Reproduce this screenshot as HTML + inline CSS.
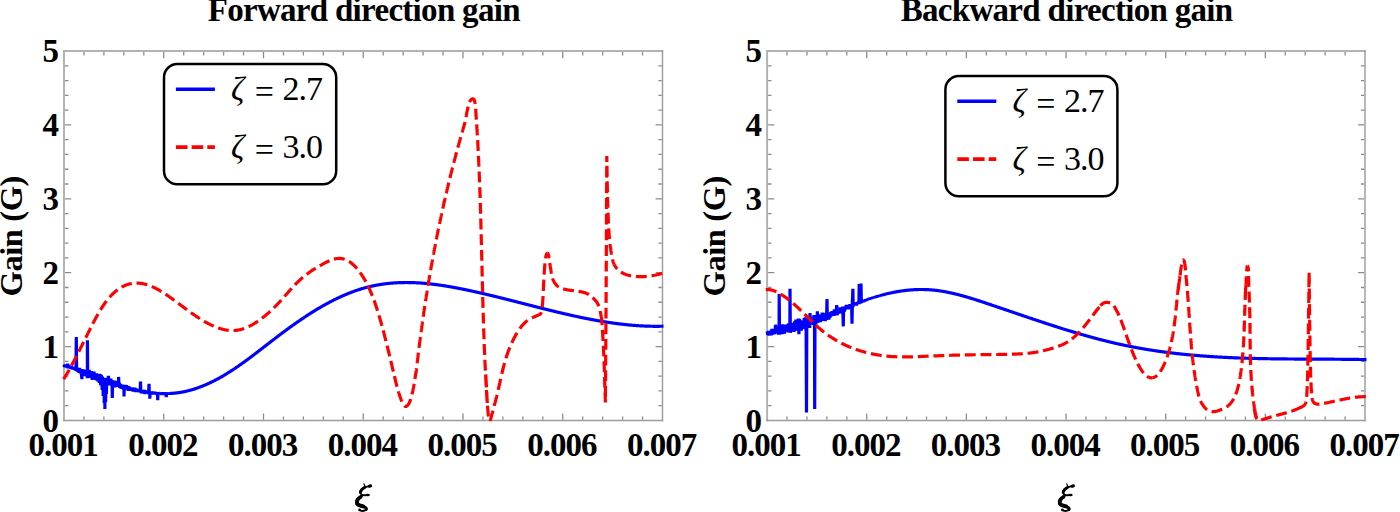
<!DOCTYPE html>
<html><head><meta charset="utf-8"><style>
html,body{margin:0;padding:0;background:#fff;width:1400px;height:512px;overflow:hidden}
svg{display:block}
text{font-family:"Liberation Serif",serif;fill:#000}
.tl{font-weight:bold;font-size:33px;letter-spacing:-1px}
.ti{font-weight:bold;font-size:33px;letter-spacing:-0.7px}
.gl{font-weight:bold;font-size:32.5px;letter-spacing:-0.4px}
.xi{font-weight:bold;font-style:italic;font-size:32px}
.lg{font-size:34px}
.ln{letter-spacing:-1px}
.lz{font-size:33px;font-style:italic}
</style></head><body>
<svg width="1400" height="512" viewBox="0 0 1400 512">
<path d="M83.95 419.80v-3.40M83.95 52.00v3.40M103.90 419.80v-3.40M103.90 52.00v3.40M123.85 419.80v-3.40M123.85 52.00v3.40M143.80 419.80v-3.40M143.80 52.00v3.40M163.75 419.80v-6.20M163.75 52.00v6.20M183.70 419.80v-3.40M183.70 52.00v3.40M203.65 419.80v-3.40M203.65 52.00v3.40M223.60 419.80v-3.40M223.60 52.00v3.40M243.55 419.80v-3.40M243.55 52.00v3.40M263.50 419.80v-6.20M263.50 52.00v6.20M283.45 419.80v-3.40M283.45 52.00v3.40M303.40 419.80v-3.40M303.40 52.00v3.40M323.35 419.80v-3.40M323.35 52.00v3.40M343.30 419.80v-3.40M343.30 52.00v3.40M363.25 419.80v-6.20M363.25 52.00v6.20M383.20 419.80v-3.40M383.20 52.00v3.40M403.15 419.80v-3.40M403.15 52.00v3.40M423.10 419.80v-3.40M423.10 52.00v3.40M443.05 419.80v-3.40M443.05 52.00v3.40M463.00 419.80v-6.20M463.00 52.00v6.20M482.95 419.80v-3.40M482.95 52.00v3.40M502.90 419.80v-3.40M502.90 52.00v3.40M522.85 419.80v-3.40M522.85 52.00v3.40M542.80 419.80v-3.40M542.80 52.00v3.40M562.75 419.80v-6.20M562.75 52.00v6.20M582.70 419.80v-3.40M582.70 52.00v3.40M602.65 419.80v-3.40M602.65 52.00v3.40M622.60 419.80v-3.40M622.60 52.00v3.40M642.55 419.80v-3.40M642.55 52.00v3.40M65.00 405.72h3.40M661.80 405.72h-3.40M65.00 390.94h3.40M661.80 390.94h-3.40M65.00 376.16h3.40M661.80 376.16h-3.40M65.00 361.38h3.40M661.80 361.38h-3.40M65.00 346.60h6.20M661.80 346.60h-6.20M65.00 331.82h3.40M661.80 331.82h-3.40M65.00 317.04h3.40M661.80 317.04h-3.40M65.00 302.26h3.40M661.80 302.26h-3.40M65.00 287.48h3.40M661.80 287.48h-3.40M65.00 272.70h6.20M661.80 272.70h-6.20M65.00 257.92h3.40M661.80 257.92h-3.40M65.00 243.14h3.40M661.80 243.14h-3.40M65.00 228.36h3.40M661.80 228.36h-3.40M65.00 213.58h3.40M661.80 213.58h-3.40M65.00 198.80h6.20M661.80 198.80h-6.20M65.00 184.02h3.40M661.80 184.02h-3.40M65.00 169.24h3.40M661.80 169.24h-3.40M65.00 154.46h3.40M661.80 154.46h-3.40M65.00 139.68h3.40M661.80 139.68h-3.40M65.00 124.90h6.20M661.80 124.90h-6.20M65.00 110.12h3.40M661.80 110.12h-3.40M65.00 95.34h3.40M661.80 95.34h-3.40M65.00 80.56h3.40M661.80 80.56h-3.40M65.00 65.78h3.40M661.80 65.78h-3.40" stroke="#8c8c8c" stroke-width="1.3" fill="none"/>
<path d="M63.00 51.00H663.20" stroke="#b2b2b2" stroke-width="2" fill="none"/>
<path d="M64.00 50.00V421.20" stroke="#b2b2b2" stroke-width="2" fill="none"/>
<path d="M63.00 420.50H663.20" stroke="#9c9c9c" stroke-width="1.45" fill="none"/>
<path d="M662.50 50.00V421.20" stroke="#9c9c9c" stroke-width="1.45" fill="none"/>
<clipPath id="cl"><rect x="62.00" y="50.00" width="602.50" height="371.30"/></clipPath>
<g clip-path="url(#cl)" fill="none" stroke-linejoin="bevel">
<polyline points="64.00,364.60 64.60,366.95 65.20,364.55 65.80,367.27 66.40,365.37 67.00,367.95 67.60,363.60 68.20,368.27 68.80,365.06 69.40,367.86 70.00,365.94 70.60,368.77 71.20,366.46 71.80,369.02 72.40,366.73 73.00,369.50 73.60,367.16 74.20,369.66 74.80,367.40 75.40,370.38 76.00,367.31 76.30,337.00 76.60,369.60 76.60,371.14 77.20,367.79 77.80,371.87 78.40,368.11 79.00,372.79 79.60,368.01 80.20,373.42 80.80,369.57 81.40,373.65 81.90,379.20 82.20,371.69 82.00,369.18 82.60,374.89 83.20,369.75 83.80,375.76 84.40,370.21 85.00,374.38 85.60,369.71 86.20,376.48 86.80,371.54 87.40,378.20 87.40,340.20 87.70,373.79 88.00,370.83 88.60,376.57 89.20,369.90 89.80,377.84 90.40,371.48 91.00,376.94 91.60,370.99 92.20,379.79 92.80,372.43 93.40,379.24 94.00,371.75 94.60,378.96 95.20,373.47 95.80,379.90 96.40,373.48 97.00,380.72 97.60,375.22 98.20,381.59 98.80,373.83 99.40,382.78 100.00,374.20 100.60,385.27 101.20,375.00 101.80,381.34 102.20,390.00 102.50,379.46 102.40,376.79 103.00,381.92 103.20,396.00 103.50,379.84 103.60,377.82 104.20,384.01 104.20,403.00 104.50,380.21 104.80,377.84 104.90,409.00 105.20,380.47 105.40,382.34 105.60,402.00 105.90,380.73 106.00,378.03 106.40,394.00 106.70,381.03 106.60,383.00 107.20,378.27 107.80,384.81 108.40,375.75 109.00,385.45 109.60,378.82 110.20,385.29 110.80,378.66 111.40,385.54 112.00,380.05 112.30,398.00 112.60,383.15 112.60,386.00 113.20,380.63 113.80,385.66 114.40,380.59 115.00,387.26 115.60,380.96 116.20,386.61 116.80,383.49 117.40,386.13 118.00,381.88 118.60,386.78 118.60,376.90 118.90,385.28 119.20,382.33 119.80,387.82 120.40,384.07 121.00,388.47 121.60,384.80 122.20,388.76 122.80,384.62 123.40,389.44 124.00,385.94 124.00,396.40 124.30,386.97 124.60,388.73 125.20,384.96 125.80,388.83 126.40,385.29 127.00,389.35 127.60,385.96 128.20,390.69 128.80,386.30 129.40,389.64 130.00,387.50 130.60,390.60 131.20,387.59 131.80,390.42 132.40,387.55 133.00,391.61 133.60,387.94 134.20,390.61 134.80,387.78 135.40,392.06 136.00,388.45 136.60,391.65 137.20,389.31 137.80,391.74 138.40,389.09 139.00,392.26 139.60,389.04 140.20,391.85 140.50,381.60 140.80,391.12 140.80,390.29 141.40,393.31 142.00,390.32 142.60,392.87 143.20,390.66 143.80,393.51 144.40,389.86 145.00,394.01 145.60,390.92 146.20,393.51 146.80,390.64 147.40,393.06 148.00,391.31 148.60,393.80 149.00,383.90 149.30,392.55 149.20,391.79 149.80,394.62 149.80,398.75 150.10,392.66 150.40,391.90 151.00,394.27 151.60,391.54 152.20,394.41 152.80,391.73 153.40,393.99 154.00,392.20 154.60,394.29 155.20,391.94 155.80,394.29 156.40,392.43 157.00,394.80 157.60,392.57 157.70,400.30 158.00,393.43 158.20,394.52 158.80,392.40 159.40,394.04 160.00,392.99 160.60,394.11 161.20,392.59 161.80,394.70 162.40,392.51 163.00,394.43 163.60,393.19 164.20,394.15 164.80,392.62 165.40,394.20 166.00,392.99 166.25,397.20 166.55,393.63 166.60,394.11 167.20,393.23 167.80,393.90 168.40,392.90 169.00,394.07 169.60,393.07 170.20,393.81 170.80,393.25 171.40,393.51 172.00,393.37 172.69,393.32 173.09,393.29 173.49,393.25 173.89,393.21 174.29,393.18 174.69,393.14 175.09,393.09 175.49,393.05 175.89,393.01 176.29,392.96 176.69,392.91 177.09,392.86 177.50,392.81 177.90,392.75 178.30,392.70 178.70,392.64 179.10,392.58 179.50,392.52 179.90,392.46 180.30,392.39 180.70,392.32 181.10,392.26 181.50,392.19 181.90,392.11 182.30,392.04 182.70,391.96 183.10,391.89 183.50,391.81 183.90,391.73 184.30,391.64 184.70,391.56 185.10,391.47 185.50,391.38 185.90,391.29 186.30,391.20 186.70,391.11 187.10,391.01 187.50,390.92 187.90,390.82 188.30,390.72 188.70,390.62 189.10,390.51 189.51,390.41 189.91,390.30 190.31,390.19 190.71,390.08 191.11,389.97 191.51,389.85 191.91,389.73 192.31,389.62 192.71,389.50 193.11,389.38 193.51,389.25 193.91,389.13 194.31,389.00 194.71,388.87 195.11,388.74 195.51,388.61 195.91,388.48 196.31,388.35 196.71,388.21 197.11,388.07 197.51,387.93 197.91,387.79 198.31,387.65 198.71,387.50 199.11,387.36 199.51,387.21 199.91,387.06 200.31,386.91 200.71,386.76 201.12,386.60 201.52,386.45 201.92,386.29 202.32,386.13 202.72,385.97 203.12,385.81 203.52,385.65 203.92,385.48 204.32,385.32 204.72,385.15 205.12,384.98 205.52,384.81 205.92,384.63 206.32,384.46 206.72,384.28 207.12,384.11 207.52,383.93 207.92,383.75 208.32,383.57 208.72,383.38 209.12,383.20 209.52,383.01 209.92,382.82 210.32,382.63 210.72,382.44 211.12,382.25 211.52,382.06 211.92,381.86 212.32,381.67 212.72,381.47 213.12,381.27 213.53,381.07 213.93,380.87 214.33,380.66 214.73,380.46 215.13,380.25 215.53,380.04 215.93,379.83 216.33,379.62 216.73,379.41 217.13,379.20 217.53,378.98 217.93,378.76 218.33,378.55 218.73,378.33 219.13,378.11 219.53,377.89 219.93,377.66 220.33,377.44 220.73,377.21 221.13,376.98 221.53,376.76 221.93,376.53 222.33,376.29 222.73,376.06 223.13,375.83 223.53,375.59 223.93,375.36 224.33,375.12 224.73,374.88 225.13,374.64 225.54,374.40 225.94,374.15 226.34,373.91 226.74,373.66 227.14,373.42 227.54,373.17 227.94,372.92 228.34,372.67 228.74,372.42 229.14,372.17 229.54,371.91 229.94,371.66 230.34,371.40 230.74,371.14 231.14,370.88 231.54,370.62 231.94,370.36 232.34,370.10 232.74,369.84 233.14,369.57 233.54,369.31 233.94,369.04 234.34,368.77 234.74,368.51 235.14,368.24 235.54,367.97 235.94,367.69 236.34,367.42 236.74,367.15 237.14,366.87 237.55,366.60 237.95,366.32 238.35,366.05 238.75,365.77 239.15,365.49 239.55,365.21 239.95,364.93 240.35,364.65 240.75,364.36 241.15,364.08 241.55,363.80 241.95,363.51 242.35,363.23 242.75,362.94 243.15,362.65 243.55,362.36 243.95,362.08 244.35,361.79 244.75,361.50 245.15,361.21 245.55,360.91 245.95,360.62 246.35,360.33 246.75,360.04 247.15,359.74 247.55,359.45 247.95,359.15 248.35,358.86 248.75,358.56 249.16,358.26 249.56,357.97 249.96,357.67 250.36,357.37 250.76,357.07 251.16,356.77 251.56,356.47 251.96,356.17 252.36,355.87 252.76,355.57 253.16,355.26 253.56,354.96 253.96,354.66 254.36,354.36 254.76,354.05 255.16,353.75 255.56,353.44 255.96,353.14 256.36,352.83 256.76,352.53 257.16,352.22 257.56,351.92 257.96,351.61 258.36,351.30 258.76,351.00 259.16,350.69 259.56,350.38 259.96,350.07 260.36,349.77 260.76,349.46 261.16,349.15 261.57,348.84 261.97,348.53 262.37,348.23 262.77,347.92 263.17,347.61 263.57,347.30 263.97,346.99 264.37,346.68 264.77,346.37 265.17,346.06 265.57,345.75 265.97,345.44 266.37,345.13 266.77,344.82 267.17,344.51 267.57,344.20 267.97,343.89 268.37,343.58 268.77,343.28 269.17,342.97 269.57,342.66 269.97,342.35 270.37,342.04 270.77,341.73 271.17,341.42 271.57,341.11 271.97,340.80 272.37,340.49 272.77,340.19 273.17,339.88 273.58,339.57 273.98,339.26 274.38,338.96 274.78,338.65 275.18,338.34 275.58,338.04 275.98,337.73 276.38,337.42 276.78,337.12 277.18,336.81 277.58,336.51 277.98,336.20 278.38,335.90 278.78,335.59 279.18,335.29 279.58,334.99 279.98,334.68 280.38,334.38 280.78,334.08 281.18,333.78 281.58,333.48 281.98,333.18 282.38,332.88 282.78,332.58 283.18,332.28 283.58,331.98 283.98,331.68 284.38,331.38 284.78,331.09 285.19,330.79 285.59,330.49 285.99,330.20 286.39,329.90 286.79,329.61 287.19,329.32 287.59,329.02 287.99,328.73 288.39,328.44 288.79,328.15 289.19,327.86 289.59,327.57 289.99,327.28 290.39,326.99 290.79,326.70 291.19,326.41 291.59,326.12 291.99,325.84 292.39,325.55 292.79,325.27 293.19,324.98 293.59,324.70 293.99,324.41 294.39,324.13 294.79,323.85 295.19,323.57 295.59,323.29 295.99,323.01 296.39,322.73 296.79,322.45 297.19,322.17 297.60,321.89 298.00,321.61 298.40,321.34 298.80,321.06 299.20,320.79 299.60,320.51 300.00,320.24 300.40,319.97 300.80,319.70 301.20,319.42 301.60,319.15 302.00,318.88 302.40,318.61 302.80,318.35 303.20,318.08 303.60,317.81 304.00,317.54 304.40,317.28 304.80,317.01 305.20,316.75 305.60,316.49 306.00,316.22 306.40,315.96 306.80,315.70 307.20,315.44 307.60,315.18 308.00,314.92 308.40,314.66 308.80,314.41 309.20,314.15 309.61,313.89 310.01,313.64 310.41,313.38 310.81,313.13 311.21,312.88 311.61,312.63 312.01,312.38 312.41,312.13 312.81,311.88 313.21,311.63 313.61,311.38 314.01,311.13 314.41,310.89 314.81,310.64 315.21,310.40 315.61,310.15 316.01,309.91 316.41,309.67 316.81,309.43 317.21,309.19 317.61,308.95 318.01,308.71 318.41,308.47 318.81,308.24 319.21,308.00 319.61,307.77 320.01,307.53 320.41,307.30 320.81,307.07 321.21,306.84 321.62,306.61 322.02,306.38 322.42,306.15 322.82,305.92 323.22,305.69 323.62,305.47 324.02,305.24 324.42,305.02 324.82,304.79 325.22,304.57 325.62,304.35 326.02,304.13 326.42,303.91 326.82,303.69 327.22,303.48 327.62,303.26 328.02,303.04 328.42,302.83 328.82,302.62 329.22,302.40 329.62,302.19 330.02,301.98 330.42,301.77 330.82,301.56 331.22,301.35 331.62,301.15 332.02,300.94 332.42,300.74 332.82,300.53 333.22,300.33 333.63,300.13 334.03,299.93 334.43,299.73 334.83,299.53 335.23,299.33 335.63,299.14 336.03,298.94 336.43,298.75 336.83,298.55 337.23,298.36 337.63,298.17 338.03,297.98 338.43,297.79 338.83,297.60 339.23,297.42 339.63,297.23 340.03,297.05 340.43,296.86 340.83,296.68 341.23,296.50 341.63,296.32 342.03,296.14 342.43,295.96 342.83,295.78 343.23,295.61 343.63,295.43 344.03,295.26 344.43,295.08 344.83,294.91 345.24,294.74 345.64,294.57 346.04,294.40 346.44,294.24 346.84,294.07 347.24,293.91 347.64,293.74 348.04,293.58 348.44,293.42 348.84,293.26 349.24,293.10 349.64,292.94 350.04,292.79 350.44,292.63 350.84,292.48 351.24,292.32 351.64,292.17 352.04,292.02 352.44,291.87 352.84,291.72 353.24,291.58 353.64,291.43 354.04,291.29 354.44,291.14 354.84,291.00 355.24,290.86 355.64,290.72 356.04,290.58 356.44,290.44 356.84,290.31 357.25,290.17 357.65,290.04 358.05,289.91 358.45,289.78 358.85,289.65 359.25,289.52 359.65,289.39 360.05,289.26 360.45,289.14 360.85,289.02 361.25,288.89 361.65,288.77 362.05,288.65 362.45,288.53 362.85,288.42 363.25,288.30 363.65,288.19 364.05,288.07 364.45,287.96 364.85,287.85 365.25,287.74 365.65,287.63 366.05,287.53 366.45,287.42 366.85,287.32 367.25,287.22 367.65,287.11 368.05,287.01 368.45,286.91 368.85,286.82 369.25,286.72 369.66,286.62 370.06,286.53 370.46,286.44 370.86,286.34 371.26,286.25 371.66,286.16 372.06,286.07 372.46,285.99 372.86,285.90 373.26,285.82 373.66,285.73 374.06,285.65 374.46,285.57 374.86,285.49 375.26,285.41 375.66,285.33 376.06,285.26 376.46,285.18 376.86,285.11 377.26,285.03 377.66,284.96 378.06,284.89 378.46,284.82 378.86,284.75 379.26,284.68 379.66,284.62 380.06,284.55 380.46,284.49 380.86,284.43 381.26,284.36 381.67,284.30 382.07,284.24 382.47,284.18 382.87,284.13 383.27,284.07 383.67,284.01 384.07,283.96 384.47,283.91 384.87,283.86 385.27,283.80 385.67,283.75 386.07,283.71 386.47,283.66 386.87,283.61 387.27,283.56 387.67,283.52 388.07,283.48 388.47,283.43 388.87,283.39 389.27,283.35 389.67,283.31 390.07,283.27 390.47,283.24 390.87,283.20 391.27,283.16 391.67,283.13 392.07,283.10 392.47,283.06 392.87,283.03 393.27,283.00 393.68,282.97 394.08,282.94 394.48,282.92 394.88,282.89 395.28,282.86 395.68,282.84 396.08,282.81 396.48,282.79 396.88,282.77 397.28,282.75 397.68,282.73 398.08,282.71 398.48,282.69 398.88,282.68 399.28,282.66 399.68,282.64 400.08,282.63 400.48,282.62 400.88,282.60 401.28,282.59 401.68,282.58 402.08,282.57 402.48,282.56 402.88,282.55 403.28,282.55 403.68,282.54 404.08,282.54 404.48,282.53 404.88,282.53 405.28,282.52 405.69,282.52 406.09,282.52 406.49,282.52 406.89,282.52 407.29,282.52 407.69,282.53 408.09,282.53 408.49,282.53 408.89,282.54 409.29,282.54 409.69,282.55 410.09,282.56 410.49,282.57 410.89,282.58 411.29,282.59 411.69,282.60 412.09,282.61 412.49,282.62 412.89,282.63 413.29,282.65 413.69,282.66 414.09,282.68 414.49,282.69 414.89,282.71 415.29,282.73 415.69,282.75 416.09,282.76 416.49,282.78 416.89,282.81 417.29,282.83 417.70,282.85 418.10,282.87 418.50,282.90 418.90,282.92 419.30,282.95 419.70,282.97 420.10,283.00 420.50,283.02 420.90,283.05 421.30,283.08 421.70,283.11 422.10,283.14 422.50,283.17 422.90,283.20 423.30,283.24 423.70,283.27 424.10,283.30 424.50,283.34 424.90,283.37 425.30,283.41 425.70,283.44 426.10,283.48 426.50,283.52 426.90,283.56 427.30,283.60 427.70,283.64 428.10,283.68 428.50,283.72 428.90,283.76 429.31,283.80 429.71,283.84 430.11,283.89 430.51,283.93 430.91,283.97 431.31,284.02 431.71,284.07 432.11,284.11 432.51,284.16 432.91,284.21 433.31,284.25 433.71,284.30 434.11,284.35 434.51,284.40 434.91,284.45 435.31,284.50 435.71,284.56 436.11,284.61 436.51,284.66 436.91,284.71 437.31,284.77 437.71,284.82 438.11,284.88 438.51,284.93 438.91,284.99 439.31,285.05 439.71,285.10 440.11,285.16 440.51,285.22 440.91,285.28 441.31,285.34 441.72,285.40 442.12,285.46 442.52,285.52 442.92,285.58 443.32,285.64 443.72,285.70 444.12,285.76 444.52,285.83 444.92,285.89 445.32,285.96 445.72,286.02 446.12,286.08 446.52,286.15 446.92,286.22 447.32,286.28 447.72,286.35 448.12,286.42 448.52,286.48 448.92,286.55 449.32,286.62 449.72,286.69 450.12,286.76 450.52,286.83 450.92,286.90 451.32,286.97 451.72,287.04 452.12,287.11 452.52,287.18 452.92,287.26 453.32,287.33 453.73,287.40 454.13,287.48 454.53,287.55 454.93,287.62 455.33,287.70 455.73,287.77 456.13,287.85 456.53,287.92 456.93,288.00 457.33,288.08 457.73,288.15 458.13,288.23 458.53,288.31 458.93,288.38 459.33,288.46 459.73,288.54 460.13,288.62 460.53,288.70 460.93,288.78 461.33,288.86 461.73,288.94 462.13,289.02 462.53,289.10 462.93,289.18 463.33,289.26 463.73,289.34 464.13,289.42 464.53,289.51 464.93,289.59 465.33,289.67 465.74,289.75 466.14,289.84 466.54,289.92 466.94,290.00 467.34,290.09 467.74,290.17 468.14,290.26 468.54,290.34 468.94,290.43 469.34,290.51 469.74,290.60 470.14,290.68 470.54,290.77 470.94,290.85 471.34,290.94 471.74,291.03 472.14,291.11 472.54,291.20 472.94,291.29 473.34,291.38 473.74,291.46 474.14,291.55 474.54,291.64 474.94,291.73 475.34,291.82 475.74,291.91 476.14,292.00 476.54,292.08 476.94,292.17 477.34,292.26 477.75,292.35 478.15,292.44 478.55,292.54 478.95,292.63 479.35,292.72 479.75,292.81 480.15,292.90 480.55,292.99 480.95,293.08 481.35,293.17 481.75,293.27 482.15,293.36 482.55,293.45 482.95,293.54 483.35,293.64 483.75,293.73 484.15,293.82 484.55,293.92 484.95,294.01 485.35,294.10 485.75,294.20 486.15,294.29 486.55,294.39 486.95,294.48 487.35,294.58 487.75,294.67 488.15,294.77 488.55,294.86 488.95,294.96 489.35,295.05 489.76,295.15 490.16,295.24 490.56,295.34 490.96,295.44 491.36,295.53 491.76,295.63 492.16,295.73 492.56,295.82 492.96,295.92 493.36,296.02 493.76,296.11 494.16,296.21 494.56,296.31 494.96,296.41 495.36,296.50 495.76,296.60 496.16,296.70 496.56,296.80 496.96,296.90 497.36,296.99 497.76,297.09 498.16,297.19 498.56,297.29 498.96,297.39 499.36,297.49 499.76,297.59 500.16,297.69 500.56,297.79 500.96,297.88 501.37,297.98 501.77,298.08 502.17,298.18 502.57,298.28 502.97,298.38 503.37,298.48 503.77,298.58 504.17,298.68 504.57,298.78 504.97,298.88 505.37,298.98 505.77,299.09 506.17,299.19 506.57,299.29 506.97,299.39 507.37,299.49 507.77,299.59 508.17,299.69 508.57,299.79 508.97,299.89 509.37,299.99 509.77,300.09 510.17,300.20 510.57,300.30 510.97,300.40 511.37,300.50 511.77,300.60 512.17,300.70 512.57,300.81 512.97,300.91 513.38,301.01 513.78,301.11 514.18,301.21 514.58,301.32 514.98,301.42 515.38,301.52 515.78,301.62 516.18,301.72 516.58,301.83 516.98,301.93 517.38,302.03 517.78,302.13 518.18,302.23 518.58,302.34 518.98,302.44 519.38,302.54 519.78,302.64 520.18,302.75 520.58,302.85 520.98,302.95 521.38,303.05 521.78,303.16 522.18,303.26 522.58,303.36 522.98,303.46 523.38,303.57 523.78,303.67 524.18,303.77 524.58,303.87 524.98,303.98 525.38,304.08 525.79,304.18 526.19,304.28 526.59,304.39 526.99,304.49 527.39,304.59 527.79,304.69 528.19,304.79 528.59,304.90 528.99,305.00 529.39,305.10 529.79,305.20 530.19,305.31 530.59,305.41 530.99,305.51 531.39,305.61 531.79,305.71 532.19,305.82 532.59,305.92 532.99,306.02 533.39,306.12 533.79,306.22 534.19,306.33 534.59,306.43 534.99,306.53 535.39,306.63 535.79,306.73 536.19,306.83 536.59,306.94 536.99,307.04 537.39,307.14 537.80,307.24 538.20,307.34 538.60,307.44 539.00,307.54 539.40,307.65 539.80,307.75 540.20,307.85 540.60,307.95 541.00,308.05 541.40,308.15 541.80,308.25 542.20,308.35 542.60,308.45 543.00,308.55 543.40,308.65 543.80,308.75 544.20,308.85 544.60,308.95 545.00,309.05 545.40,309.15 545.80,309.25 546.20,309.35 546.60,309.45 547.00,309.55 547.40,309.65 547.80,309.75 548.20,309.85 548.60,309.95 549.00,310.04 549.40,310.14 549.81,310.24 550.21,310.34 550.61,310.44 551.01,310.54 551.41,310.63 551.81,310.73 552.21,310.83 552.61,310.93 553.01,311.03 553.41,311.12 553.81,311.22 554.21,311.32 554.61,311.41 555.01,311.51 555.41,311.61 555.81,311.70 556.21,311.80 556.61,311.90 557.01,311.99 557.41,312.09 557.81,312.18 558.21,312.28 558.61,312.38 559.01,312.47 559.41,312.57 559.81,312.66 560.21,312.76 560.61,312.85 561.01,312.94 561.41,313.04 561.82,313.13 562.22,313.23 562.62,313.32 563.02,313.41 563.42,313.51 563.82,313.60 564.22,313.69 564.62,313.79 565.02,313.88 565.42,313.97 565.82,314.06 566.22,314.16 566.62,314.25 567.02,314.34 567.42,314.43 567.82,314.52 568.22,314.61 568.62,314.70 569.02,314.79 569.42,314.89 569.82,314.98 570.22,315.07 570.62,315.16 571.02,315.24 571.42,315.33 571.82,315.42 572.22,315.51 572.62,315.60 573.02,315.69 573.42,315.78 573.83,315.87 574.23,315.95 574.63,316.04 575.03,316.13 575.43,316.21 575.83,316.30 576.23,316.39 576.63,316.47 577.03,316.56 577.43,316.65 577.83,316.73 578.23,316.82 578.63,316.90 579.03,316.99 579.43,317.07 579.83,317.16 580.23,317.24 580.63,317.32 581.03,317.41 581.43,317.49 581.83,317.57 582.23,317.66 582.63,317.74 583.03,317.82 583.43,317.90 583.83,317.98 584.23,318.07 584.63,318.15 585.03,318.23 585.43,318.31 585.84,318.39 586.24,318.47 586.64,318.55 587.04,318.63 587.44,318.71 587.84,318.78 588.24,318.86 588.64,318.94 589.04,319.02 589.44,319.10 589.84,319.17 590.24,319.25 590.64,319.33 591.04,319.40 591.44,319.48 591.84,319.55 592.24,319.63 592.64,319.70 593.04,319.78 593.44,319.85 593.84,319.93 594.24,320.00 594.64,320.07 595.04,320.15 595.44,320.22 595.84,320.29 596.24,320.36 596.64,320.44 597.04,320.51 597.44,320.58 597.85,320.65 598.25,320.72 598.65,320.79 599.05,320.86 599.45,320.93 599.85,321.00 600.25,321.07 600.65,321.13 601.05,321.20 601.45,321.27 601.85,321.34 602.25,321.40 602.65,321.47 603.05,321.54 603.45,321.60 603.85,321.67 604.25,321.73 604.65,321.80 605.05,321.86 605.45,321.92 605.85,321.99 606.25,322.05 606.65,322.11 607.05,322.18 607.45,322.24 607.85,322.30 608.25,322.36 608.65,322.42 609.05,322.48 609.45,322.54 609.86,322.60 610.26,322.66 610.66,322.72 611.06,322.78 611.46,322.83 611.86,322.89 612.26,322.95 612.66,323.01 613.06,323.06 613.46,323.12 613.86,323.17 614.26,323.23 614.66,323.28 615.06,323.34 615.46,323.39 615.86,323.44 616.26,323.50 616.66,323.55 617.06,323.60 617.46,323.65 617.86,323.70 618.26,323.75 618.66,323.80 619.06,323.85 619.46,323.90 619.86,323.95 620.26,324.00 620.66,324.05 621.06,324.10 621.47,324.14 621.87,324.19 622.27,324.24 622.67,324.28 623.07,324.33 623.47,324.37 623.87,324.42 624.27,324.46 624.67,324.50 625.07,324.55 625.47,324.59 625.87,324.63 626.27,324.67 626.67,324.71 627.07,324.76 627.47,324.80 627.87,324.83 628.27,324.87 628.67,324.91 629.07,324.95 629.47,324.99 629.87,325.03 630.27,325.06 630.67,325.10 631.07,325.13 631.47,325.17 631.87,325.20 632.27,325.24 632.67,325.27 633.07,325.31 633.48,325.34 633.88,325.37 634.28,325.40 634.68,325.43 635.08,325.46 635.48,325.49 635.88,325.52 636.28,325.55 636.68,325.58 637.08,325.61 637.48,325.64 637.88,325.66 638.28,325.69 638.68,325.72 639.08,325.74 639.48,325.77 639.88,325.79 640.28,325.81 640.68,325.84 641.08,325.86 641.48,325.88 641.88,325.90 642.28,325.92 642.68,325.94 643.08,325.96 643.48,325.98 643.88,326.00 644.28,326.02 644.68,326.04 645.08,326.05 645.49,326.07 645.89,326.09 646.29,326.10 646.69,326.12 647.09,326.13 647.49,326.15 647.89,326.16 648.29,326.17 648.69,326.18 649.09,326.19 649.49,326.21 649.89,326.22 650.29,326.23 650.69,326.23 651.09,326.24 651.49,326.25 651.89,326.26 652.29,326.26 652.69,326.27 653.09,326.28 653.49,326.28 653.89,326.28 654.29,326.29 654.69,326.29 655.09,326.29 655.49,326.30 655.89,326.30 656.29,326.30 656.69,326.30 657.09,326.30 657.50,326.30 657.90,326.29 658.30,326.29 658.70,326.29 659.10,326.28 659.50,326.28 659.90,326.27 660.30,326.27 660.70,326.26 661.10,326.26 661.50,326.25 661.90,326.24 662.30,326.23 662.70,326.22 663.10,326.21 663.50,326.20" stroke="#0000ff" stroke-width="3.20"/>
<polyline points="63.60,379.20 64.00,378.55 64.40,377.90 64.80,377.24 65.20,376.58 65.60,375.91 66.01,375.24 66.41,374.56 66.81,373.87 67.21,373.18 67.61,372.49 68.01,371.79 68.41,371.09 68.81,370.38 69.21,369.66 69.61,368.95 70.02,368.23 70.42,367.50 70.82,366.77 71.22,366.04 71.62,365.30 72.02,364.56 72.42,363.82 72.82,363.07 73.22,362.32 73.62,361.56 74.03,360.81 74.43,360.05 74.83,359.28 75.23,358.52 75.63,357.75 76.03,356.97 76.43,356.20 76.83,355.42 77.23,354.64 77.63,353.86 78.03,353.08 78.44,352.29 78.84,351.51 79.24,350.72 79.64,349.92 80.04,349.13 80.44,348.34 80.84,347.54 81.24,346.74 81.64,345.95 82.04,345.15 82.45,344.35 82.85,343.55 83.25,342.74 83.65,341.94 84.05,341.14 84.45,340.33 84.85,339.53 85.25,338.72 85.65,337.92 86.05,337.12 86.45,336.31 86.86,335.51 87.26,334.70 87.66,333.90 88.06,333.10 88.46,332.29 88.86,331.49 89.26,330.69 89.66,329.90 90.06,329.10 90.46,328.31 90.87,327.52 91.27,326.73 91.67,325.94 92.07,325.16 92.47,324.38 92.87,323.61 93.27,322.83 93.67,322.07 94.07,321.30 94.47,320.54 94.88,319.79 95.28,319.04 95.68,318.30 96.08,317.56 96.48,316.83 96.88,316.10 97.28,315.38 97.68,314.66 98.08,313.96 98.48,313.26 98.88,312.56 99.29,311.88 99.69,311.20 100.09,310.52 100.49,309.86 100.89,309.21 101.29,308.56 101.69,307.92 102.09,307.29 102.49,306.67 102.89,306.06 103.30,305.46 103.70,304.87 104.10,304.29 104.50,303.72 104.90,303.16 105.30,302.60 105.70,302.06 106.10,301.52 106.50,301.00 106.90,300.48 107.31,299.97 107.71,299.47 108.11,298.98 108.51,298.50 108.91,298.02 109.31,297.56 109.71,297.10 110.11,296.65 110.51,296.22 110.91,295.78 111.31,295.36 111.72,294.95 112.12,294.54 112.52,294.14 112.92,293.75 113.32,293.37 113.72,293.00 114.12,292.63 114.52,292.27 114.92,291.92 115.32,291.58 115.73,291.24 116.13,290.91 116.53,290.59 116.93,290.28 117.33,289.97 117.73,289.68 118.13,289.38 118.53,289.10 118.93,288.82 119.33,288.55 119.73,288.29 120.14,288.04 120.54,287.79 120.94,287.54 121.34,287.31 121.74,287.08 122.14,286.86 122.54,286.64 122.94,286.44 123.34,286.23 123.74,286.04 124.15,285.85 124.55,285.67 124.95,285.49 125.35,285.32 125.75,285.16 126.15,285.01 126.55,284.86 126.95,284.71 127.35,284.58 127.75,284.44 128.16,284.32 128.56,284.20 128.96,284.09 129.36,283.98 129.76,283.88 130.16,283.79 130.56,283.70 130.96,283.62 131.36,283.54 131.76,283.47 132.16,283.40 132.57,283.35 132.97,283.29 133.37,283.24 133.77,283.20 134.17,283.17 134.57,283.14 134.97,283.11 135.37,283.09 135.77,283.08 136.17,283.07 136.58,283.06 136.98,283.07 137.38,283.07 137.78,283.09 138.18,283.10 138.58,283.13 138.98,283.15 139.38,283.19 139.78,283.23 140.18,283.27 140.59,283.32 140.99,283.37 141.39,283.43 141.79,283.49 142.19,283.56 142.59,283.63 142.99,283.71 143.39,283.79 143.79,283.88 144.19,283.97 144.59,284.07 145.00,284.17 145.40,284.27 145.80,284.38 146.20,284.50 146.60,284.62 147.00,284.74 147.40,284.86 147.80,285.00 148.20,285.13 148.60,285.27 149.01,285.41 149.41,285.56 149.81,285.71 150.21,285.86 150.61,286.02 151.01,286.19 151.41,286.35 151.81,286.52 152.21,286.69 152.61,286.87 153.01,287.05 153.42,287.23 153.82,287.42 154.22,287.61 154.62,287.80 155.02,288.00 155.42,288.20 155.82,288.41 156.22,288.61 156.62,288.82 157.02,289.03 157.43,289.25 157.83,289.47 158.23,289.69 158.63,289.91 159.03,290.14 159.43,290.37 159.83,290.60 160.23,290.84 160.63,291.07 161.03,291.31 161.44,291.55 161.84,291.80 162.24,292.05 162.64,292.29 163.04,292.55 163.44,292.80 163.84,293.06 164.24,293.31 164.64,293.57 165.04,293.84 165.44,294.10 165.85,294.37 166.25,294.63 166.65,294.90 167.05,295.17 167.45,295.45 167.85,295.72 168.25,296.00 168.65,296.27 169.05,296.55 169.45,296.83 169.86,297.12 170.26,297.40 170.66,297.68 171.06,297.97 171.46,298.26 171.86,298.55 172.26,298.83 172.66,299.12 173.06,299.42 173.46,299.71 173.87,300.00 174.27,300.29 174.67,300.59 175.07,300.88 175.47,301.18 175.87,301.48 176.27,301.77 176.67,302.07 177.07,302.37 177.47,302.67 177.87,302.97 178.28,303.27 178.68,303.57 179.08,303.86 179.48,304.16 179.88,304.46 180.28,304.76 180.68,305.06 181.08,305.36 181.48,305.66 181.88,305.96 182.29,306.26 182.69,306.56 183.09,306.86 183.49,307.16 183.89,307.46 184.29,307.76 184.69,308.05 185.09,308.35 185.49,308.65 185.89,308.94 186.29,309.24 186.70,309.53 187.10,309.83 187.50,310.12 187.90,310.41 188.30,310.70 188.70,311.00 189.10,311.29 189.50,311.57 189.90,311.86 190.30,312.15 190.71,312.44 191.11,312.72 191.51,313.01 191.91,313.29 192.31,313.57 192.71,313.86 193.11,314.14 193.51,314.41 193.91,314.69 194.31,314.97 194.72,315.24 195.12,315.52 195.52,315.79 195.92,316.06 196.32,316.33 196.72,316.60 197.12,316.87 197.52,317.13 197.92,317.40 198.32,317.66 198.72,317.92 199.13,318.18 199.53,318.43 199.93,318.69 200.33,318.94 200.73,319.19 201.13,319.44 201.53,319.69 201.93,319.94 202.33,320.18 202.73,320.42 203.14,320.66 203.54,320.90 203.94,321.13 204.34,321.37 204.74,321.60 205.14,321.83 205.54,322.05 205.94,322.28 206.34,322.50 206.74,322.72 207.15,322.94 207.55,323.15 207.95,323.37 208.35,323.58 208.75,323.79 209.15,323.99 209.55,324.19 209.95,324.40 210.35,324.59 210.75,324.79 211.15,324.98 211.56,325.17 211.96,325.36 212.36,325.54 212.76,325.72 213.16,325.90 213.56,326.08 213.96,326.25 214.36,326.42 214.76,326.59 215.16,326.76 215.57,326.92 215.97,327.08 216.37,327.23 216.77,327.38 217.17,327.53 217.57,327.68 217.97,327.82 218.37,327.96 218.77,328.10 219.17,328.23 219.57,328.36 219.98,328.49 220.38,328.61 220.78,328.73 221.18,328.85 221.58,328.96 221.98,329.07 222.38,329.17 222.78,329.28 223.18,329.37 223.58,329.47 223.99,329.56 224.39,329.65 224.79,329.73 225.19,329.81 225.59,329.89 225.99,329.96 226.39,330.03 226.79,330.09 227.19,330.15 227.59,330.21 228.00,330.26 228.40,330.30 228.80,330.35 229.20,330.39 229.60,330.42 230.00,330.45 230.40,330.48 230.80,330.50 231.20,330.52 231.60,330.53 232.00,330.54 232.41,330.54 232.81,330.54 233.21,330.53 233.61,330.52 234.01,330.51 234.41,330.49 234.81,330.46 235.21,330.43 235.61,330.40 236.01,330.36 236.42,330.31 236.82,330.27 237.22,330.21 237.62,330.15 238.02,330.09 238.42,330.02 238.82,329.94 239.22,329.86 239.62,329.78 240.02,329.69 240.43,329.59 240.83,329.49 241.23,329.38 241.63,329.27 242.03,329.16 242.43,329.04 242.83,328.91 243.23,328.78 243.63,328.65 244.03,328.51 244.43,328.37 244.84,328.22 245.24,328.06 245.64,327.91 246.04,327.74 246.44,327.58 246.84,327.41 247.24,327.23 247.64,327.05 248.04,326.87 248.44,326.68 248.85,326.49 249.25,326.29 249.65,326.09 250.05,325.89 250.45,325.68 250.85,325.47 251.25,325.25 251.65,325.03 252.05,324.81 252.45,324.58 252.85,324.35 253.26,324.11 253.66,323.87 254.06,323.63 254.46,323.39 254.86,323.14 255.26,322.89 255.66,322.63 256.06,322.37 256.46,322.11 256.86,321.84 257.27,321.57 257.67,321.30 258.07,321.03 258.47,320.75 258.87,320.47 259.27,320.18 259.67,319.90 260.07,319.61 260.47,319.31 260.87,319.02 261.28,318.72 261.68,318.42 262.08,318.11 262.48,317.81 262.88,317.50 263.28,317.18 263.68,316.87 264.08,316.55 264.48,316.23 264.88,315.90 265.28,315.58 265.69,315.25 266.09,314.91 266.49,314.58 266.89,314.24 267.29,313.89 267.69,313.55 268.09,313.20 268.49,312.85 268.89,312.49 269.29,312.14 269.70,311.78 270.10,311.41 270.50,311.05 270.90,310.68 271.30,310.30 271.70,309.93 272.10,309.55 272.50,309.17 272.90,308.78 273.30,308.39 273.71,308.00 274.11,307.61 274.51,307.21 274.91,306.81 275.31,306.41 275.71,306.00 276.11,305.59 276.51,305.18 276.91,304.76 277.31,304.34 277.71,303.92 278.12,303.49 278.52,303.07 278.92,302.64 279.32,302.20 279.72,301.77 280.12,301.33 280.52,300.89 280.92,300.44 281.32,300.00 281.72,299.55 282.13,299.11 282.53,298.66 282.93,298.21 283.33,297.75 283.73,297.30 284.13,296.85 284.53,296.39 284.93,295.94 285.33,295.49 285.73,295.03 286.13,294.58 286.54,294.12 286.94,293.67 287.34,293.21 287.74,292.76 288.14,292.30 288.54,291.85 288.94,291.40 289.34,290.95 289.74,290.50 290.14,290.05 290.55,289.61 290.95,289.16 291.35,288.72 291.75,288.28 292.15,287.84 292.55,287.40 292.95,286.97 293.35,286.54 293.75,286.11 294.15,285.69 294.56,285.26 294.96,284.85 295.36,284.43 295.76,284.02 296.16,283.61 296.56,283.20 296.96,282.80 297.36,282.41 297.76,282.01 298.16,281.62 298.56,281.24 298.97,280.86 299.37,280.49 299.77,280.11 300.17,279.75 300.57,279.38 300.97,279.03 301.37,278.67 301.77,278.32 302.17,277.97 302.57,277.63 302.98,277.29 303.38,276.95 303.78,276.62 304.18,276.29 304.58,275.97 304.98,275.65 305.38,275.33 305.78,275.01 306.18,274.70 306.58,274.40 306.99,274.09 307.39,273.79 307.79,273.49 308.19,273.20 308.59,272.90 308.99,272.62 309.39,272.33 309.79,272.05 310.19,271.76 310.59,271.49 310.99,271.21 311.40,270.94 311.80,270.67 312.20,270.40 312.60,270.14 313.00,269.88 313.40,269.62 313.80,269.36 314.20,269.10 314.60,268.85 315.00,268.60 315.41,268.35 315.81,268.10 316.21,267.86 316.61,267.62 317.01,267.37 317.41,267.14 317.81,266.90 318.21,266.66 318.61,266.43 319.01,266.20 319.41,265.97 319.82,265.74 320.22,265.51 320.62,265.28 321.02,265.06 321.42,264.84 321.82,264.61 322.22,264.39 322.62,264.17 323.02,263.96 323.42,263.74 323.83,263.52 324.23,263.31 324.63,263.10 325.03,262.89 325.43,262.68 325.83,262.47 326.23,262.27 326.63,262.07 327.03,261.88 327.43,261.68 327.84,261.49 328.24,261.31 328.64,261.13 329.04,260.95 329.44,260.78 329.84,260.61 330.24,260.44 330.64,260.28 331.04,260.13 331.44,259.98 331.84,259.84 332.25,259.70 332.65,259.57 333.05,259.44 333.45,259.32 333.85,259.21 334.25,259.10 334.65,259.00 335.05,258.91 335.45,258.83 335.85,258.75 336.26,258.68 336.66,258.62 337.06,258.56 337.46,258.52 337.86,258.48 338.26,258.45 338.66,258.43 339.06,258.42 339.46,258.42 339.86,258.42 340.27,258.44 340.67,258.47 341.07,258.50 341.47,258.55 341.87,258.61 342.27,258.68 342.67,258.76 343.07,258.84 343.47,258.94 343.87,259.05 344.27,259.18 344.68,259.31 345.08,259.45 345.48,259.60 345.88,259.76 346.28,259.94 346.68,260.12 347.08,260.32 347.48,260.52 347.88,260.74 348.28,260.97 348.69,261.21 349.09,261.45 349.49,261.71 349.89,261.98 350.29,262.26 350.69,262.56 351.09,262.86 351.49,263.17 351.89,263.49 352.29,263.83 352.69,264.18 353.10,264.53 353.50,264.90 353.90,265.28 354.30,265.67 354.70,266.07 355.10,266.48 355.50,266.90 355.90,267.33 356.30,267.77 356.70,268.23 357.11,268.69 357.51,269.17 357.91,269.66 358.31,270.16 358.71,270.67 359.11,271.19 359.51,271.72 359.91,272.26 360.31,272.81 360.71,273.38 361.12,273.95 361.52,274.54 361.92,275.14 362.32,275.75 362.72,276.38 363.12,277.02 363.52,277.67 363.92,278.33 364.32,279.01 364.72,279.70 365.12,280.40 365.53,281.12 365.93,281.86 366.33,282.61 366.73,283.37 367.13,284.15 367.53,284.95 367.93,285.76 368.33,286.59 368.73,287.43 369.13,288.29 369.54,289.17 369.94,290.07 370.34,290.98 370.74,291.91 371.14,292.86 371.54,293.83 371.94,294.81 372.34,295.82 372.74,296.84 373.14,297.88 373.55,298.95 373.95,300.03 374.35,301.13 374.75,302.26 375.15,303.40 375.55,304.57 375.95,305.76 376.35,306.97 376.75,308.20 377.15,309.45 377.55,310.72 377.96,312.01 378.36,313.31 378.76,314.64 379.16,315.99 379.56,317.35 379.96,318.73 380.36,320.13 380.76,321.55 381.16,322.98 381.56,324.42 381.97,325.88 382.37,327.36 382.77,328.85 383.17,330.35 383.57,331.86 383.97,333.39 384.37,334.93 384.77,336.48 385.17,338.05 385.57,339.62 385.97,341.21 386.38,342.80 386.78,344.41 387.18,346.02 387.58,347.64 387.98,349.27 388.38,350.90 388.78,352.55 389.18,354.20 389.58,355.86 389.98,357.52 390.39,359.18 390.79,360.86 391.19,362.53 391.59,364.21 391.99,365.90 392.39,367.58 392.79,369.27 393.19,370.96 393.59,372.65 393.99,374.35 394.40,376.04 394.80,377.73 395.20,379.43 395.60,381.12 396.00,382.81 396.40,384.50 396.75,385.68 397.09,386.88 397.44,388.09 397.78,389.29 398.12,390.50 398.47,391.69 398.82,392.87 399.17,394.01 399.53,395.13 399.90,396.20 400.21,397.09 400.53,397.99 400.84,398.89 401.16,399.78 401.48,400.64 401.80,401.46 402.14,402.24 402.48,402.97 402.83,403.62 403.20,404.20 403.44,404.53 403.68,404.87 403.92,405.19 404.17,405.49 404.42,405.76 404.67,406.01 404.92,406.21 405.18,406.36 405.44,406.46 405.70,406.50 405.98,406.47 406.27,406.37 406.57,406.21 406.87,406.00 407.17,405.74 407.47,405.44 407.76,405.12 408.05,404.76 408.33,404.39 408.60,404.00 409.04,403.26 409.46,402.41 409.86,401.45 410.24,400.41 410.60,399.29 410.95,398.11 411.30,396.88 411.63,395.60 411.97,394.31 412.30,393.00 412.76,391.08 413.19,389.01 413.60,386.83 414.00,384.56 414.39,382.22 414.77,379.84 415.14,377.44 415.52,375.05 415.91,372.70 416.30,370.40 416.35,370.00 416.39,369.60 416.44,369.20 416.48,368.80 416.53,368.40 416.58,367.99 416.62,367.59 416.67,367.19 416.71,366.79 416.76,366.39 416.81,365.99 416.85,365.59 416.90,365.19 416.95,364.79 416.99,364.39 417.04,363.98 417.09,363.58 417.14,363.18 417.18,362.78 417.23,362.38 417.28,361.98 417.32,361.58 417.37,361.18 417.42,360.78 417.47,360.38 417.52,359.97 417.56,359.57 417.61,359.17 417.66,358.77 417.71,358.37 417.76,357.97 417.80,357.57 417.85,357.17 417.90,356.77 417.95,356.37 418.00,355.97 418.05,355.56 418.10,355.16 418.14,354.76 418.19,354.36 418.24,353.96 418.29,353.56 418.34,353.16 418.39,352.76 418.44,352.36 418.49,351.96 418.54,351.55 418.59,351.15 418.64,350.75 418.69,350.35 418.74,349.95 418.79,349.55 418.84,349.15 418.89,348.75 418.94,348.35 418.99,347.95 419.04,347.54 419.09,347.14 419.14,346.74 419.19,346.34 419.24,345.94 419.29,345.54 419.35,345.14 419.40,344.74 419.45,344.34 419.50,343.94 419.55,343.54 419.60,343.13 419.65,342.73 419.70,342.33 419.76,341.93 419.81,341.53 419.86,341.13 419.91,340.73 419.96,340.33 420.02,339.93 420.07,339.53 420.12,339.12 420.17,338.72 420.23,338.32 420.28,337.92 420.33,337.52 420.39,337.12 420.44,336.72 420.49,336.32 420.54,335.92 420.60,335.52 420.65,335.11 420.70,334.71 420.76,334.31 420.81,333.91 420.87,333.51 420.92,333.11 420.97,332.71 421.03,332.31 421.08,331.91 421.14,331.51 421.19,331.11 421.24,330.70 421.30,330.30 421.35,329.90 421.41,329.50 421.46,329.10 421.52,328.70 421.57,328.30 421.63,327.90 421.68,327.50 421.74,327.10 421.79,326.69 421.85,326.29 421.90,325.89 421.96,325.49 422.01,325.09 422.07,324.69 422.13,324.29 422.18,323.89 422.24,323.49 422.29,323.09 422.35,322.69 422.41,322.28 422.46,321.88 422.52,321.48 422.58,321.08 422.63,320.68 422.69,320.28 422.75,319.88 422.80,319.48 422.86,319.08 422.92,318.68 422.98,318.27 423.03,317.87 423.09,317.47 423.15,317.07 423.21,316.67 423.26,316.27 423.32,315.87 423.38,315.47 423.44,315.07 423.50,314.67 423.56,314.26 423.61,313.86 423.67,313.46 423.73,313.06 423.79,312.66 423.85,312.26 423.91,311.86 423.97,311.46 424.03,311.06 424.09,310.66 424.14,310.26 424.20,309.85 424.26,309.45 424.32,309.05 424.38,308.65 424.44,308.25 424.50,307.85 424.56,307.45 424.62,307.05 424.68,306.65 424.74,306.25 424.80,305.84 424.86,305.44 424.93,305.04 424.99,304.64 425.05,304.24 425.11,303.84 425.17,303.44 425.23,303.04 425.29,302.64 425.35,302.24 425.41,301.83 425.48,301.43 425.54,301.03 425.60,300.63 425.66,300.23 425.72,299.83 425.78,299.43 425.85,299.03 425.91,298.63 425.97,298.23 426.03,297.83 426.10,297.42 426.16,297.02 426.22,296.62 426.29,296.22 426.35,295.82 426.41,295.42 426.47,295.02 426.54,294.62 426.60,294.22 426.67,293.82 426.73,293.41 426.79,293.01 426.86,292.61 426.92,292.21 426.98,291.81 427.05,291.41 427.11,291.01 427.18,290.61 427.24,290.21 427.31,289.81 427.37,289.40 427.44,289.00 427.50,288.60 427.57,288.20 427.63,287.80 427.70,287.40 427.76,287.00 427.83,286.60 427.89,286.20 427.96,285.80 428.02,285.40 428.09,284.99 428.16,284.59 428.22,284.19 428.29,283.79 428.35,283.39 428.42,282.99 428.49,282.59 428.55,282.19 428.62,281.79 428.69,281.39 428.75,280.98 428.82,280.58 428.89,280.18 428.96,279.78 429.02,279.38 429.09,278.98 429.16,278.58 429.23,278.18 429.29,277.78 429.36,277.38 429.43,276.97 429.50,276.57 429.57,276.17 429.64,275.77 429.70,275.37 429.77,274.97 429.84,274.57 429.91,274.17 429.98,273.77 430.05,273.37 430.12,272.97 430.19,272.56 430.26,272.16 430.33,271.76 430.40,271.36 430.47,270.96 430.54,270.56 430.60,270.16 430.68,269.76 430.75,269.36 430.82,268.96 430.89,268.55 430.96,268.15 431.03,267.75 431.10,267.35 431.17,266.95 431.24,266.55 431.31,266.15 431.38,265.75 431.45,265.35 431.52,264.95 431.60,264.54 431.67,264.14 431.74,263.74 431.81,263.34 431.88,262.94 431.96,262.54 432.03,262.14 432.10,261.74 432.17,261.34 432.25,260.94 432.32,260.54 432.39,260.13 432.46,259.73 432.54,259.33 432.61,258.93 432.68,258.53 432.76,258.13 432.83,257.73 432.90,257.33 432.98,256.93 433.05,256.53 433.13,256.12 433.20,255.72 433.27,255.32 433.35,254.92 433.42,254.52 433.50,254.12 433.57,253.72 433.65,253.32 433.72,252.92 433.80,252.52 433.87,252.11 433.95,251.71 434.02,251.31 434.10,250.91 434.17,250.51 434.25,250.11 434.32,249.71 434.40,249.31 434.48,248.91 434.55,248.51 434.63,248.11 434.71,247.70 434.78,247.30 434.86,246.90 434.94,246.50 435.01,246.10 435.09,245.70 435.17,245.30 435.24,244.90 435.32,244.50 435.40,244.10 435.48,243.69 435.55,243.29 435.63,242.89 435.71,242.49 435.79,242.09 435.87,241.69 435.94,241.29 436.02,240.89 436.10,240.49 436.18,240.09 436.26,239.69 436.34,239.28 436.42,238.88 436.50,238.48 436.58,238.08 436.65,237.68 436.73,237.28 436.81,236.88 436.89,236.48 436.97,236.08 437.05,235.68 437.13,235.27 437.21,234.87 437.29,234.47 437.38,234.07 437.46,233.67 437.54,233.27 437.62,232.87 437.70,232.47 437.78,232.07 437.86,231.67 437.94,231.26 438.02,230.86 438.11,230.46 438.19,230.06 438.27,229.66 438.35,229.26 438.43,228.86 438.52,228.46 438.60,228.06 438.68,227.66 438.76,227.26 438.85,226.85 438.93,226.45 439.01,226.05 439.09,225.65 439.18,225.25 439.26,224.85 439.34,224.45 439.43,224.05 439.51,223.65 439.60,223.25 439.68,222.84 439.76,222.44 439.85,222.04 439.93,221.64 440.02,221.24 440.10,220.84 440.19,220.44 440.27,220.04 440.36,219.64 440.44,219.24 440.53,218.83 440.61,218.43 440.70,218.03 440.78,217.63 440.87,217.23 440.96,216.83 441.04,216.43 441.13,216.03 441.21,215.63 441.30,215.23 441.39,214.83 441.47,214.42 441.56,214.02 441.65,213.62 441.73,213.22 441.82,212.82 441.91,212.42 442.00,212.02 442.08,211.62 442.17,211.22 442.26,210.82 442.35,210.41 442.44,210.01 442.52,209.61 442.61,209.21 442.70,208.81 442.79,208.41 442.88,208.01 442.97,207.61 443.06,207.21 443.15,206.81 443.23,206.40 443.32,206.00 443.41,205.60 443.50,205.20 443.59,204.80 443.68,204.40 443.77,204.00 443.86,203.60 443.95,203.20 444.04,202.80 444.13,202.40 444.23,201.99 444.32,201.59 444.41,201.19 444.50,200.79 444.59,200.39 444.68,199.99 444.77,199.59 444.86,199.19 444.96,198.79 445.05,198.39 445.14,197.98 445.23,197.58 445.32,197.18 445.42,196.78 445.51,196.38 445.60,195.98 445.69,195.58 445.79,195.18 445.88,194.78 445.97,194.38 446.07,193.97 446.16,193.57 446.25,193.17 446.35,192.77 446.44,192.37 446.54,191.97 446.63,191.57 446.72,191.17 446.82,190.77 446.91,190.37 447.01,189.97 447.10,189.56 447.20,189.16 447.29,188.76 447.39,188.36 447.48,187.96 447.58,187.56 447.68,187.16 447.77,186.76 447.87,186.36 447.96,185.96 448.06,185.55 448.16,185.15 448.25,184.75 448.35,184.35 448.45,183.95 448.54,183.55 448.64,183.15 448.74,182.75 448.83,182.35 448.93,181.95 449.03,181.54 449.13,181.14 449.23,180.74 449.32,180.34 449.42,179.94 449.52,179.54 449.62,179.14 449.72,178.74 449.82,178.34 449.91,177.94 450.01,177.54 450.11,177.13 450.21,176.73 450.31,176.33 450.41,175.93 450.51,175.53 450.61,175.13 450.71,174.73 450.81,174.33 450.91,173.93 451.01,173.53 451.11,173.12 451.21,172.72 451.31,172.32 451.41,171.92 451.52,171.52 451.62,171.12 451.72,170.72 451.82,170.32 451.92,169.92 452.02,169.52 452.12,169.11 452.23,168.71 452.33,168.31 452.43,167.91 452.53,167.51 452.64,167.11 452.74,166.71 452.84,166.31 452.95,165.91 453.05,165.51 453.15,165.11 453.26,164.70 453.36,164.30 453.46,163.90 453.57,163.50 453.67,163.10 453.78,162.70 453.88,162.30 453.98,161.90 454.09,161.50 454.19,161.10 454.30,160.69 454.40,160.29 454.51,159.89 454.61,159.49 454.72,159.09 454.83,158.69 454.93,158.29 455.04,157.89 455.14,157.49 455.25,157.09 455.36,156.69 455.46,156.28 455.57,155.88 455.68,155.48 455.78,155.08 455.89,154.68 456.00,154.28 456.10,153.88 456.21,153.48 456.32,153.08 456.43,152.68 456.54,152.27 456.64,151.87 456.75,151.47 456.86,151.07 456.97,150.67 457.08,150.27 457.19,149.87 457.30,149.47 457.40,149.07 457.51,148.67 457.62,148.26 457.73,147.86 457.84,147.46 457.95,147.06 458.06,146.66 458.17,146.26 458.28,145.86 458.39,145.46 458.50,145.06 458.62,144.66 458.73,144.26 458.84,143.85 458.95,143.45 459.06,143.05 459.17,142.65 459.28,142.25 459.40,141.85 459.51,141.45 459.62,141.05 459.73,140.65 459.84,140.25 459.96,139.84 460.07,139.44 460.18,139.04 460.30,138.64 460.41,138.24 460.52,137.84 460.64,137.44 460.75,137.04 460.86,136.64 460.98,136.24 461.09,135.83 461.21,135.43 461.32,135.03 461.43,134.63 461.55,134.23 461.66,133.83 461.78,133.43 461.89,133.03 462.01,132.63 462.13,132.23 462.24,131.83 462.36,131.42 462.47,131.02 462.59,130.62 462.70,130.22 462.82,129.82 462.94,129.42 463.05,129.02 463.17,128.62 463.29,128.22 463.41,127.82 463.52,127.41 463.64,127.01 463.76,126.61 463.88,126.21 463.99,125.81 464.11,125.41 464.23,125.01 464.35,124.61 464.47,124.21 464.59,123.81 464.70,123.40 464.82,123.00 464.94,122.60 465.06,122.20 465.18,121.80 465.30,121.40 465.50,120.30 465.69,119.19 465.89,118.07 466.08,116.95 466.28,115.83 466.47,114.72 466.67,113.63 466.88,112.55 467.08,111.51 467.30,110.50 467.49,109.66 467.67,108.81 467.86,107.97 468.04,107.15 468.23,106.34 468.43,105.56 468.63,104.80 468.85,104.09 469.07,103.42 469.30,102.80 469.46,102.40 469.63,102.02 469.79,101.64 469.96,101.29 470.14,100.95 470.31,100.63 470.50,100.33 470.69,100.06 470.89,99.81 471.10,99.60 471.26,99.46 471.42,99.33 471.59,99.21 471.77,99.09 471.95,99.00 472.12,98.91 472.30,98.85 472.47,98.81 472.64,98.79 472.80,98.80 472.95,98.83 473.11,98.89 473.26,98.98 473.41,99.08 473.55,99.20 473.70,99.34 473.83,99.49 473.96,99.65 474.09,99.82 474.20,100.00 474.35,100.28 474.49,100.59 474.61,100.93 474.71,101.29 474.80,101.68 474.89,102.10 474.96,102.54 475.04,103.00 475.12,103.49 475.20,104.00 475.34,105.01 475.47,106.16 475.58,107.41 475.67,108.75 475.76,110.16 475.85,111.60 475.93,113.06 476.02,114.51 476.10,115.93 476.20,117.30 476.23,117.70 476.26,118.10 476.28,118.50 476.31,118.90 476.34,119.31 476.36,119.71 476.39,120.11 476.42,120.51 476.45,120.91 476.47,121.31 476.50,121.71 476.53,122.11 476.55,122.51 476.58,122.92 476.61,123.32 476.63,123.72 476.66,124.12 476.68,124.52 476.71,124.92 476.74,125.32 476.76,125.72 476.79,126.12 476.81,126.53 476.84,126.93 476.86,127.33 476.89,127.73 476.91,128.13 476.94,128.53 476.96,128.93 476.99,129.33 477.01,129.73 477.04,130.14 477.06,130.54 477.09,130.94 477.11,131.34 477.14,131.74 477.16,132.14 477.19,132.54 477.21,132.94 477.23,133.34 477.26,133.75 477.28,134.15 477.30,134.55 477.33,134.95 477.35,135.35 477.38,135.75 477.40,136.15 477.42,136.55 477.45,136.95 477.47,137.36 477.49,137.76 477.51,138.16 477.54,138.56 477.56,138.96 477.58,139.36 477.61,139.76 477.63,140.16 477.65,140.56 477.67,140.97 477.70,141.37 477.72,141.77 477.74,142.17 477.76,142.57 477.78,142.97 477.81,143.37 477.83,143.77 477.85,144.17 477.87,144.58 477.89,144.98 477.91,145.38 477.93,145.78 477.96,146.18 477.98,146.58 478.00,146.98 478.02,147.38 478.04,147.78 478.06,148.19 478.08,148.59 478.10,148.99 478.12,149.39 478.14,149.79 478.16,150.19 478.19,150.59 478.21,150.99 478.23,151.39 478.25,151.80 478.27,152.20 478.29,152.60 478.31,153.00 478.33,153.40 478.35,153.80 478.37,154.20 478.39,154.60 478.40,155.00 478.42,155.41 478.44,155.81 478.46,156.21 478.48,156.61 478.50,157.01 478.52,157.41 478.54,157.81 478.56,158.21 478.58,158.61 478.60,159.02 478.62,159.42 478.63,159.82 478.65,160.22 478.67,160.62 478.69,161.02 478.71,161.42 478.73,161.82 478.75,162.22 478.76,162.63 478.78,163.03 478.80,163.43 478.82,163.83 478.84,164.23 478.85,164.63 478.87,165.03 478.89,165.43 478.91,165.84 478.92,166.24 478.94,166.64 478.96,167.04 478.98,167.44 478.99,167.84 479.01,168.24 479.03,168.64 479.05,169.04 479.06,169.45 479.08,169.85 479.10,170.25 479.11,170.65 479.13,171.05 479.15,171.45 479.16,171.85 479.18,172.25 479.20,172.65 479.21,173.06 479.23,173.46 479.25,173.86 479.26,174.26 479.28,174.66 479.30,175.06 479.31,175.46 479.33,175.86 479.34,176.26 479.36,176.67 479.38,177.07 479.39,177.47 479.41,177.87 479.42,178.27 479.44,178.67 479.45,179.07 479.47,179.47 479.49,179.87 479.50,180.28 479.52,180.68 479.53,181.08 479.55,181.48 479.56,181.88 479.58,182.28 479.59,182.68 479.61,183.08 479.62,183.48 479.64,183.89 479.65,184.29 479.67,184.69 479.68,185.09 479.70,185.49 479.71,185.89 479.73,186.29 479.74,186.69 479.76,187.09 479.77,187.50 479.78,187.90 479.80,188.30 479.81,188.70 479.83,189.10 479.84,189.50 479.86,189.90 479.87,190.30 479.88,190.70 479.90,191.11 479.91,191.51 479.93,191.91 479.94,192.31 479.95,192.71 479.97,193.11 479.98,193.51 479.99,193.91 480.01,194.31 480.02,194.72 480.04,195.12 480.05,195.52 480.06,195.92 480.08,196.32 480.09,196.72 480.10,197.12 480.12,197.52 480.13,197.92 480.14,198.33 480.16,198.73 480.17,199.13 480.18,199.53 480.19,199.93 480.21,200.33 480.22,200.73 480.23,201.13 480.25,201.53 480.26,201.94 480.27,202.34 480.28,202.74 480.30,203.14 480.31,203.54 480.32,203.94 480.33,204.34 480.35,204.74 480.36,205.14 480.37,205.55 480.38,205.95 480.40,206.35 480.41,206.75 480.42,207.15 480.43,207.55 480.45,207.95 480.46,208.35 480.47,208.75 480.48,209.16 480.49,209.56 480.51,209.96 480.52,210.36 480.53,210.76 480.54,211.16 480.55,211.56 480.57,211.96 480.58,212.36 480.59,212.77 480.60,213.17 480.61,213.57 480.62,213.97 480.64,214.37 480.65,214.77 480.66,215.17 480.67,215.57 480.68,215.97 480.69,216.38 480.71,216.78 480.72,217.18 480.73,217.58 480.74,217.98 480.75,218.38 480.76,218.78 480.77,219.18 480.78,219.58 480.80,219.99 480.81,220.39 480.82,220.79 480.83,221.19 480.84,221.59 480.85,221.99 480.86,222.39 480.87,222.79 480.88,223.19 480.90,223.60 480.91,224.00 480.92,224.40 480.93,224.80 480.94,225.20 480.95,225.60 480.96,226.00 480.97,226.40 480.98,226.80 480.99,227.21 481.00,227.61 481.01,228.01 481.02,228.41 481.04,228.81 481.05,229.21 481.06,229.61 481.07,230.01 481.08,230.41 481.09,230.82 481.10,231.22 481.11,231.62 481.12,232.02 481.13,232.42 481.14,232.82 481.15,233.22 481.16,233.62 481.17,234.02 481.18,234.43 481.19,234.83 481.20,235.23 481.21,235.63 481.22,236.03 481.23,236.43 481.24,236.83 481.25,237.23 481.26,237.63 481.27,238.04 481.28,238.44 481.29,238.84 481.30,239.24 481.31,239.64 481.32,240.04 481.33,240.44 481.34,240.84 481.35,241.24 481.36,241.65 481.37,242.05 481.38,242.45 481.39,242.85 481.40,243.25 481.41,243.65 481.42,244.05 481.43,244.45 481.44,244.85 481.45,245.26 481.46,245.66 481.47,246.06 481.48,246.46 481.49,246.86 481.50,247.26 481.51,247.66 481.52,248.06 481.53,248.46 481.54,248.87 481.55,249.27 481.56,249.67 481.57,250.07 481.58,250.47 481.59,250.87 481.60,251.27 481.61,251.67 481.62,252.07 481.63,252.48 481.64,252.88 481.65,253.28 481.66,253.68 481.67,254.08 481.68,254.48 481.69,254.88 481.70,255.28 481.71,255.68 481.72,256.09 481.73,256.49 481.74,256.89 481.75,257.29 481.76,257.69 481.77,258.09 481.78,258.49 481.79,258.89 481.80,259.29 481.80,259.70 481.81,260.10 481.82,260.50 481.83,260.90 481.84,261.30 481.85,261.70 481.86,262.10 481.87,262.50 481.88,262.91 481.89,263.31 481.90,263.71 481.91,264.11 481.92,264.51 481.93,264.91 481.94,265.31 481.95,265.71 481.96,266.11 481.97,266.52 481.98,266.92 481.99,267.32 482.00,267.72 482.01,268.12 482.02,268.52 482.03,268.92 482.04,269.32 482.05,269.72 482.06,270.13 482.07,270.53 482.08,270.93 482.09,271.33 482.10,271.73 482.11,272.13 482.11,272.53 482.12,272.93 482.13,273.33 482.14,273.74 482.15,274.14 482.16,274.54 482.17,274.94 482.18,275.34 482.19,275.74 482.20,276.14 482.21,276.54 482.22,276.94 482.23,277.35 482.24,277.75 482.25,278.15 482.26,278.55 482.27,278.95 482.28,279.35 482.29,279.75 482.30,280.15 482.31,280.55 482.32,280.96 482.33,281.36 482.34,281.76 482.35,282.16 482.36,282.56 482.37,282.96 482.38,283.36 482.39,283.76 482.40,284.16 482.41,284.57 482.42,284.97 482.43,285.37 482.44,285.77 482.45,286.17 482.46,286.57 482.47,286.97 482.48,287.37 482.49,287.77 482.50,288.18 482.51,288.58 482.52,288.98 482.53,289.38 482.54,289.78 482.55,290.18 482.57,290.58 482.58,290.98 482.59,291.38 482.60,291.79 482.61,292.19 482.62,292.59 482.63,292.99 482.64,293.39 482.65,293.79 482.66,294.19 482.67,294.59 482.68,294.99 482.69,295.40 482.70,295.80 482.71,296.20 482.72,296.60 482.73,297.00 482.74,297.40 482.76,297.80 482.77,298.20 482.78,298.60 482.79,299.01 482.80,299.41 482.81,299.81 482.82,300.21 482.83,300.61 482.84,301.01 482.85,301.41 482.86,301.81 482.88,302.21 482.89,302.62 482.90,303.02 482.91,303.42 482.92,303.82 482.93,304.22 482.94,304.62 482.95,305.02 482.96,305.42 482.98,305.82 482.99,306.23 483.00,306.63 483.01,307.03 483.02,307.43 483.03,307.83 483.04,308.23 483.06,308.63 483.07,309.03 483.08,309.43 483.09,309.84 483.10,310.24 483.11,310.64 483.13,311.04 483.14,311.44 483.15,311.84 483.16,312.24 483.17,312.64 483.18,313.04 483.20,313.45 483.21,313.85 483.22,314.25 483.23,314.65 483.24,315.05 483.26,315.45 483.27,315.85 483.28,316.25 483.29,316.65 483.31,317.06 483.32,317.46 483.33,317.86 483.34,318.26 483.36,318.66 483.37,319.06 483.38,319.46 483.39,319.86 483.41,320.26 483.42,320.67 483.43,321.07 483.44,321.47 483.46,321.87 483.47,322.27 483.48,322.67 483.49,323.07 483.51,323.47 483.52,323.87 483.53,324.28 483.55,324.68 483.56,325.08 483.57,325.48 483.59,325.88 483.60,326.28 483.61,326.68 483.63,327.08 483.64,327.48 483.65,327.89 483.67,328.29 483.68,328.69 483.69,329.09 483.71,329.49 483.72,329.89 483.73,330.29 483.75,330.69 483.76,331.09 483.77,331.50 483.79,331.90 483.80,332.30 483.82,332.70 483.83,333.10 483.84,333.50 483.86,333.90 483.87,334.30 483.89,334.70 483.90,335.11 483.92,335.51 483.93,335.91 483.94,336.31 483.96,336.71 483.97,337.11 483.99,337.51 484.00,337.91 484.02,338.31 484.03,338.72 484.05,339.12 484.06,339.52 484.08,339.92 484.09,340.32 484.11,340.72 484.12,341.12 484.14,341.52 484.15,341.92 484.17,342.33 484.18,342.73 484.20,343.13 484.21,343.53 484.23,343.93 484.24,344.33 484.26,344.73 484.28,345.13 484.29,345.53 484.31,345.94 484.32,346.34 484.34,346.74 484.35,347.14 484.37,347.54 484.39,347.94 484.40,348.34 484.42,348.74 484.43,349.14 484.45,349.55 484.47,349.95 484.48,350.35 484.50,350.75 484.52,351.15 484.53,351.55 484.55,351.95 484.57,352.35 484.58,352.75 484.60,353.16 484.62,353.56 484.63,353.96 484.65,354.36 484.67,354.76 484.68,355.16 484.70,355.56 484.72,355.96 484.74,356.36 484.75,356.77 484.77,357.17 484.79,357.57 484.81,357.97 484.82,358.37 484.84,358.77 484.86,359.17 484.88,359.57 484.90,359.98 484.91,360.38 484.93,360.78 484.95,361.18 484.97,361.58 484.99,361.98 485.00,362.38 485.02,362.78 485.04,363.18 485.06,363.59 485.08,363.99 485.10,364.39 485.12,364.79 485.14,365.19 485.15,365.59 485.17,365.99 485.19,366.39 485.21,366.79 485.23,367.20 485.25,367.60 485.27,368.00 485.29,368.40 485.31,368.80 485.33,369.20 485.35,369.60 485.37,370.00 485.39,370.40 485.41,370.81 485.43,371.21 485.45,371.61 485.47,372.01 485.49,372.41 485.51,372.81 485.53,373.21 485.55,373.61 485.57,374.01 485.59,374.42 485.61,374.82 485.63,375.22 485.65,375.62 485.67,376.02 485.69,376.42 485.71,376.82 485.73,377.22 485.76,377.62 485.78,378.03 485.80,378.43 485.82,378.83 485.84,379.23 485.86,379.63 485.88,380.03 485.91,380.43 485.93,380.83 485.95,381.23 485.97,381.64 485.99,382.04 486.02,382.44 486.04,382.84 486.06,383.24 486.08,383.64 486.11,384.04 486.13,384.44 486.15,384.84 486.17,385.25 486.20,385.65 486.22,386.05 486.24,386.45 486.27,386.85 486.29,387.25 486.31,387.65 486.34,388.05 486.36,388.45 486.38,388.86 486.41,389.26 486.43,389.66 486.45,390.06 486.48,390.46 486.50,390.86 486.53,391.26 486.55,391.66 486.57,392.06 486.60,392.47 486.62,392.87 486.65,393.27 486.67,393.67 486.70,394.07 486.72,394.47 486.75,394.87 486.77,395.27 486.80,395.67 486.82,396.08 486.85,396.48 486.87,396.88 486.90,397.28 486.92,397.68 486.95,398.08 486.98,398.48 487.00,398.88 487.03,399.28 487.05,399.69 487.08,400.09 487.11,400.49 487.13,400.89 487.16,401.29 487.18,401.69 487.21,402.09 487.24,402.49 487.26,402.89 487.29,403.30 487.32,403.70 487.35,404.10 487.37,404.50 487.40,404.90 485.70,373.00 485.86,376.24 486.01,379.55 486.16,382.90 486.30,386.27 486.45,389.61 486.61,392.90 486.77,396.11 486.96,399.20 487.17,402.14 487.40,404.90 487.58,406.91 487.76,409.05 487.95,411.24 488.15,413.40 488.35,415.46 488.57,417.33 488.80,418.92 489.05,420.17 489.31,420.99 489.60,421.30" stroke="#ff0000" stroke-width="3.20" stroke-dasharray="10.900 4.800" stroke-dashoffset="0.000"/>
<polyline points="489.60,421.30 489.81,421.18 490.04,420.82 490.27,420.24 490.52,419.51 490.77,418.65 491.02,417.71 491.27,416.74 491.52,415.77 491.76,414.84 492.00,414.00 492.26,413.10 492.51,412.18 492.77,411.25 493.02,410.30 493.26,409.33 493.51,408.36 493.76,407.39 494.00,406.42 494.25,405.46 494.50,404.50 494.90,403.16 495.31,401.74 495.71,400.26 496.11,398.71 496.52,397.11 496.92,395.46 497.32,393.76 497.73,392.03 498.13,390.27 498.54,388.48 498.94,386.68 499.34,384.86 499.75,383.04 500.15,381.21 500.55,379.40 500.96,377.60 501.36,375.81 501.76,374.06 502.17,372.33 502.57,370.64 502.97,369.00 503.38,367.41 503.78,365.86 504.18,364.36 504.59,362.90 504.99,361.48 505.39,360.10 505.80,358.77 506.20,357.47 506.61,356.21 507.01,354.99 507.41,353.80 507.82,352.65 508.22,351.53 508.62,350.44 509.03,349.38 509.43,348.35 509.83,347.35 510.24,346.37 510.64,345.42 511.04,344.50 511.45,343.59 511.85,342.71 512.25,341.85 512.66,341.00 513.06,340.18 513.46,339.37 513.87,338.57 514.27,337.79 514.68,337.03 515.08,336.28 515.48,335.55 515.89,334.83 516.29,334.13 516.69,333.45 517.10,332.78 517.50,332.12 517.90,331.48 518.31,330.85 518.71,330.24 519.11,329.64 519.52,329.06 519.92,328.49 520.32,327.94 520.73,327.40 521.13,326.88 521.54,326.37 521.94,325.87 522.34,325.39 522.75,324.93 523.15,324.48 523.55,324.04 523.96,323.62 524.36,323.21 524.76,322.81 525.17,322.43 525.57,322.06 525.97,321.71 526.38,321.37 526.78,321.04 527.18,320.73 527.59,320.43 527.99,320.14 528.39,319.87 528.80,319.61 529.20,319.35 529.61,319.11 530.01,318.88 530.41,318.65 530.82,318.43 531.22,318.22 531.62,318.02 532.03,317.82 532.43,317.63 532.83,317.45 533.24,317.27 533.64,317.09 534.04,316.91 534.45,316.74 534.85,316.57 535.25,316.40 535.66,316.23 536.06,316.06 536.46,315.89 536.87,315.72 537.27,315.54 537.68,315.37 538.08,315.19 538.48,315.00 538.89,314.81 539.29,314.62 539.69,314.42 540.10,314.21 540.50,314.00 540.61,313.75 540.73,313.50 540.84,313.26 540.96,313.02 541.08,312.78 541.19,312.53 541.30,312.28 541.41,312.00 541.51,311.71 541.60,311.40 541.72,310.88 541.83,310.32 541.92,309.72 542.01,309.09 542.08,308.43 542.15,307.76 542.21,307.07 542.27,306.37 542.33,305.68 542.40,305.00 542.47,304.24 542.54,303.48 542.61,302.72 542.67,301.94 542.73,301.16 542.78,300.36 542.84,299.55 542.89,298.72 542.95,297.87 543.00,297.00 543.07,295.90 543.13,294.76 543.19,293.59 543.25,292.40 543.30,291.18 543.36,289.95 543.42,288.71 543.48,287.47 543.54,286.23 543.60,285.00 543.67,283.71 543.73,282.41 543.80,281.08 543.86,279.76 543.93,278.43 544.00,277.10 544.07,275.79 544.14,274.50 544.22,273.23 544.30,272.00 544.37,270.93 544.44,269.87 544.51,268.82 544.59,267.78 544.66,266.76 544.74,265.75 544.82,264.77 544.91,263.81 545.00,262.89 545.10,262.00 545.18,261.32 545.25,260.66 545.33,260.00 545.41,259.36 545.49,258.73 545.58,258.13 545.67,257.55 545.77,257.00 545.88,256.48 546.00,256.00 546.08,255.69 546.17,255.38 546.26,255.08 546.35,254.78 546.44,254.50 546.54,254.24 546.65,254.01 546.76,253.80 546.88,253.63 547.00,253.50 547.07,253.44 547.15,253.39 547.23,253.34 547.32,253.31 547.40,253.28 547.49,253.26" stroke="#ff0000" stroke-width="3.20" stroke-dasharray="11.364 5.004" stroke-dashoffset="0.125"/>
<polyline points="547.49,253.26 547.57,253.25 547.65,253.25 547.73,253.27 547.80,253.30 547.91,253.39 548.01,253.52 548.10,253.70 548.18,253.90 548.26,254.14 548.33,254.40 548.40,254.67 548.46,254.95 548.53,255.23 548.60,255.50 548.70,255.91 548.79,256.36 548.87,256.82 548.95,257.32 549.02,257.83 549.10,258.35 549.17,258.89 549.24,259.42 549.32,259.96 549.40,260.50 549.49,261.11 549.59,261.73 549.68,262.35 549.78,262.98 549.87,263.62 549.97,264.27 550.07,264.93 550.18,265.61 550.28,266.30 550.40,267.00 550.54,267.89 550.69,268.83 550.84,269.81 550.99,270.81 551.15,271.82 551.32,272.83 551.50,273.81 551.69,274.76 551.89,275.66 552.10,276.50 552.27,277.10 552.44,277.69 552.62,278.25 552.80,278.80 552.99,279.33 553.19,279.84 553.40,280.35 553.62,280.84 553.85,281.32 554.10,281.80 554.34,282.23 554.60,282.64 554.87,283.04 555.15,283.43 555.44,283.81 555.74,284.19 556.03,284.56 556.33,284.94 556.62,285.31 556.90,285.70 557.31,285.99 557.71,286.26 558.12,286.52 558.53,286.77 558.93,287.00 559.34,287.23 559.74,287.44 560.15,287.64 560.56,287.83 560.96,288.01 561.37,288.18 561.78,288.34 562.18,288.49 562.59,288.63 563.00,288.77 563.40,288.89 563.81,289.01 564.21,289.13 564.62,289.23 565.03,289.34 565.43,289.43 565.84,289.52 566.25,289.61 566.65,289.69 567.06,289.77 567.47,289.84 567.87,289.91 568.28,289.98 568.68,290.05 569.09,290.11 569.50,290.17 569.90,290.23 570.31,290.29 570.72,290.34 571.12,290.40 571.53,290.45 571.94,290.50 572.34,290.55 572.75,290.60 573.15,290.65 573.56,290.70 573.97,290.75 574.37,290.80 574.78,290.85 575.19,290.90 575.59,290.95 576.00,291.00 576.41,291.05 576.81,291.10 577.22,291.15 577.62,291.21 578.03,291.26 578.44,291.32 578.84,291.38 579.25,291.44 579.66,291.50 580.06,291.57 580.47,291.64 580.88,291.71 581.28,291.79 581.69,291.87 582.09,291.95 582.50,292.04 582.91,292.14 583.31,292.24 583.72,292.36 584.13,292.47 584.53,292.60 584.94,292.74 585.35,292.88 585.75,293.04 586.16,293.21 586.56,293.39 586.97,293.58 587.38,293.78 587.78,293.99 588.19,294.22 588.60,294.47 589.00,294.72 589.41,294.99 589.82,295.28 590.22,295.58 590.63,295.89 591.03,296.21 591.44,296.55 591.85,296.90 592.25,297.26 592.66,297.64 593.07,298.03 593.47,298.43 593.88,298.84 594.29,299.26 594.69,299.70 595.10,300.15 595.50,300.61 595.91,301.08 596.32,301.57 596.72,302.10 597.13,302.70 597.54,303.38 597.94,304.15 598.35,305.05 598.76,306.09 599.16,307.30 599.57,308.68 599.97,310.26 600.38,312.06 600.79,314.11 601.19,316.41 601.60,319.00 600.60,313.00 600.70,313.59 600.81,314.17 600.91,314.74 601.02,315.31 601.12,315.88 601.22,316.47 601.33,317.06 601.42,317.68 601.51,318.33 601.60,319.00 601.71,319.96 601.80,320.97 601.89,322.02 601.97,323.11 602.04,324.23 602.11,325.37 602.18,326.53 602.25,327.69 602.33,328.85 602.40,330.00 602.48,331.25 602.57,332.50 602.65,333.76 602.73,335.04 602.81,336.32 602.89,337.62 602.97,338.94 603.05,340.27 603.12,341.62 603.20,343.00 603.29,344.59 603.37,346.20 603.45,347.83 603.53,349.48 603.62,351.15 603.69,352.85 603.77,354.59 603.85,356.35 603.93,358.16 604.00,360.00 604.09,362.33 604.17,364.76 604.26,367.29 604.34,369.87 604.42,372.48 604.50,375.09 604.57,377.68 604.65,380.21 604.72,382.66 604.80,385.00 604.86,386.88 604.92,388.70 604.98,390.48 605.04,392.22 605.10,393.94 605.16,395.65 605.22,397.35 605.28,399.05 605.34,400.76 605.40,402.50 606.10,300.00 606.80,156.00 606.88,160.44 606.95,164.96 607.02,169.51 607.09,174.08 607.16,178.62 607.23,183.11 607.31,187.53 607.40,191.83 607.49,196.00 607.60,200.00 607.69,203.10 607.79,206.16 607.88,209.17 607.98,212.12 608.09,215.00 608.20,217.80 608.32,220.51 608.44,223.12 608.57,225.62 608.70,228.00 608.80,229.61 608.90,231.16 609.00,232.65 609.10,234.10 609.21,235.50 609.32,236.86 609.43,238.18 609.55,239.48 609.67,240.75 609.80,242.00 609.91,242.99 610.02,243.94 610.13,244.87 610.25,245.79 610.37,246.68 610.49,247.56 610.61,248.43 610.74,249.29 610.87,250.14 611.00,251.00 611.12,251.78 611.24,252.57 611.35,253.34 611.47,254.11 611.59,254.87 611.72,255.62 611.85,256.36 611.99,257.09 612.14,257.80 612.30,258.50 612.44,259.09 612.59,259.68 612.73,260.25 612.88,260.81 613.04,261.37 613.20,261.91 613.38,262.45 613.57,262.97 613.78,263.49 614.00,264.00 614.23,264.48" stroke="#ff0000" stroke-width="3.20" stroke-dasharray="10.870 4.787" stroke-dashoffset="5.435"/>
<polyline points="614.23,264.48 614.46,264.94 614.71,265.41 614.97,265.86 615.24,266.30 615.52,266.74 615.82,267.16 616.13,267.58 616.46,268.00 616.80,268.40 617.18,268.82 617.59,269.24 618.02,269.65 618.46,270.05 618.92,270.44 619.39,270.82 619.86,271.19 620.34,271.54 620.82,271.88 621.30,272.20 621.75,272.49 622.21,272.76 622.68,273.01 623.14,273.26 623.62,273.49 624.09,273.72 624.57,273.93 625.05,274.13 625.53,274.32 626.00,274.50 626.44,274.66 626.88,274.81 627.32,274.94 627.75,275.07 628.19,275.19 628.63,275.30 629.08,275.40 629.54,275.51 630.01,275.60 630.50,275.70 631.10,275.81 631.72,275.91 632.35,276.01 633.00,276.10 633.66,276.19 634.33,276.26 635.00,276.33 635.67,276.40 636.34,276.45 637.00,276.50 637.67,276.54 638.32,276.58 638.98,276.62 639.63,276.64 640.29,276.66 640.96,276.67 641.64,276.67 642.34,276.66 643.06,276.64 643.80,276.60 644.79,276.53 645.84,276.45 646.92,276.34 648.04,276.21 649.17,276.07 650.31,275.92 651.44,275.75 652.56,275.58 653.65,275.39 654.70,275.20 655.62,275.02 656.53,274.82 657.42,274.60 658.30,274.38 659.17,274.16 660.03,273.92 660.89,273.69 661.76,273.45 662.62,273.22 663.50,273.00" stroke="#ff0000" stroke-width="3.20" stroke-dasharray="10.900 4.800" stroke-dashoffset="5.450"/>
</g>
<text x="58.00" y="431.70" class="tl" text-anchor="end">0</text>
<text x="58.00" y="357.80" class="tl" text-anchor="end">1</text>
<text x="58.00" y="283.90" class="tl" text-anchor="end">2</text>
<text x="58.00" y="210.00" class="tl" text-anchor="end">3</text>
<text x="58.00" y="136.10" class="tl" text-anchor="end">4</text>
<text x="58.00" y="62.20" class="tl" text-anchor="end">5</text>
<text x="63.00" y="456.00" class="tl" text-anchor="middle">0.001</text>
<text x="162.75" y="456.00" class="tl" text-anchor="middle">0.002</text>
<text x="262.50" y="456.00" class="tl" text-anchor="middle">0.003</text>
<text x="362.25" y="456.00" class="tl" text-anchor="middle">0.004</text>
<text x="462.00" y="456.00" class="tl" text-anchor="middle">0.005</text>
<text x="561.75" y="456.00" class="tl" text-anchor="middle">0.006</text>
<text x="661.50" y="456.00" class="tl" text-anchor="middle">0.007</text>
<text x="363.75" y="21.2" class="ti" text-anchor="middle">Forward direction gain</text>
<g transform="translate(0.00,0.00)"><g fill="none" stroke="#000" stroke-linecap="round">
<path d="M370.6,486.4 C366.5,486.0 361.8,488.2 360.4,491.2 C359.5,493.6 361.6,495.4 365.6,495.2" stroke-width="1.9"/>
<path d="M364.6,487.5 C362.4,488.7 360.8,490.3 360.4,492.3" stroke-width="2.9"/>
<path d="M364.0,483.9 L365.1,486.6" stroke-width="1.2"/>
<path d="M362.2,495.9 C357.7,497.4 355.2,501.2 356.7,504.2 C358.2,506.6 364.3,506.2 366.0,508.0 C367.4,510.0 363.8,511.6 360.6,510.6" stroke-width="1.9"/>
<path d="M360.5,497.0 C357.8,498.8 356.4,501.5 357.2,503.8 C358.2,505.5 361.0,505.9 363.4,506.4" stroke-width="3.9"/>
<path d="M363.5,506.6 C365.6,507.2 366.6,508.2 366.3,509.4" stroke-width="3.0"/>
</g>
<g fill="#000" stroke="none">
<ellipse cx="369.9" cy="486.0" rx="2.3" ry="1.6" transform="rotate(-15 369.9 486)"/>
<ellipse cx="367.6" cy="495.0" rx="2.3" ry="1.3"/>
<circle cx="359.6" cy="509.9" r="1.35"/>
</g></g>
<text transform="translate(22.00,296.50) rotate(-90)" class="gl">Gain (G)</text>
<rect x="164.00" y="64.10" width="172.20" height="120.20" rx="13.3" ry="13.3" fill="#fff" stroke="#000" stroke-width="2.5"/>
<path d="M175.90 89.25H214.90" stroke="#0000ff" stroke-width="3.7"/>
<path d="M175.90 147.20H214.90" stroke="#ff0000" stroke-width="3.7" stroke-dasharray="11.6 4.1"/>
<text x="231.00" y="99.70" class="lz">&#950;</text>
<text x="254.80" y="103.40" class="lg">=</text>
<text x="282.50" y="99.70" class="lg ln">2.7</text>
<text x="231.00" y="157.70" class="lz">&#950;</text>
<text x="254.80" y="161.40" class="lg">=</text>
<text x="282.50" y="157.70" class="lg ln">3.0</text>
<path d="M787.03 419.80v-3.40M787.03 52.00v3.40M806.96 419.80v-3.40M806.96 52.00v3.40M826.89 419.80v-3.40M826.89 52.00v3.40M846.82 419.80v-3.40M846.82 52.00v3.40M866.75 419.80v-6.20M866.75 52.00v6.20M886.68 419.80v-3.40M886.68 52.00v3.40M906.61 419.80v-3.40M906.61 52.00v3.40M926.54 419.80v-3.40M926.54 52.00v3.40M946.47 419.80v-3.40M946.47 52.00v3.40M966.40 419.80v-6.20M966.40 52.00v6.20M986.33 419.80v-3.40M986.33 52.00v3.40M1006.26 419.80v-3.40M1006.26 52.00v3.40M1026.19 419.80v-3.40M1026.19 52.00v3.40M1046.12 419.80v-3.40M1046.12 52.00v3.40M1066.05 419.80v-6.20M1066.05 52.00v6.20M1085.98 419.80v-3.40M1085.98 52.00v3.40M1105.91 419.80v-3.40M1105.91 52.00v3.40M1125.84 419.80v-3.40M1125.84 52.00v3.40M1145.77 419.80v-3.40M1145.77 52.00v3.40M1165.70 419.80v-6.20M1165.70 52.00v6.20M1185.63 419.80v-3.40M1185.63 52.00v3.40M1205.56 419.80v-3.40M1205.56 52.00v3.40M1225.49 419.80v-3.40M1225.49 52.00v3.40M1245.42 419.80v-3.40M1245.42 52.00v3.40M1265.35 419.80v-6.20M1265.35 52.00v6.20M1285.28 419.80v-3.40M1285.28 52.00v3.40M1305.21 419.80v-3.40M1305.21 52.00v3.40M1325.14 419.80v-3.40M1325.14 52.00v3.40M1345.07 419.80v-3.40M1345.07 52.00v3.40M768.10 405.72h3.40M1364.30 405.72h-3.40M768.10 390.94h3.40M1364.30 390.94h-3.40M768.10 376.16h3.40M1364.30 376.16h-3.40M768.10 361.38h3.40M1364.30 361.38h-3.40M768.10 346.60h6.20M1364.30 346.60h-6.20M768.10 331.82h3.40M1364.30 331.82h-3.40M768.10 317.04h3.40M1364.30 317.04h-3.40M768.10 302.26h3.40M1364.30 302.26h-3.40M768.10 287.48h3.40M1364.30 287.48h-3.40M768.10 272.70h6.20M1364.30 272.70h-6.20M768.10 257.92h3.40M1364.30 257.92h-3.40M768.10 243.14h3.40M1364.30 243.14h-3.40M768.10 228.36h3.40M1364.30 228.36h-3.40M768.10 213.58h3.40M1364.30 213.58h-3.40M768.10 198.80h6.20M1364.30 198.80h-6.20M768.10 184.02h3.40M1364.30 184.02h-3.40M768.10 169.24h3.40M1364.30 169.24h-3.40M768.10 154.46h3.40M1364.30 154.46h-3.40M768.10 139.68h3.40M1364.30 139.68h-3.40M768.10 124.90h6.20M1364.30 124.90h-6.20M768.10 110.12h3.40M1364.30 110.12h-3.40M768.10 95.34h3.40M1364.30 95.34h-3.40M768.10 80.56h3.40M1364.30 80.56h-3.40M768.10 65.78h3.40M1364.30 65.78h-3.40" stroke="#8c8c8c" stroke-width="1.3" fill="none"/>
<path d="M766.10 51.00H1365.70" stroke="#b2b2b2" stroke-width="2" fill="none"/>
<path d="M767.10 50.00V421.20" stroke="#b2b2b2" stroke-width="2" fill="none"/>
<path d="M766.10 420.50H1365.70" stroke="#9c9c9c" stroke-width="1.45" fill="none"/>
<path d="M1365.00 50.00V421.20" stroke="#9c9c9c" stroke-width="1.45" fill="none"/>
<clipPath id="cr"><rect x="765.10" y="50.00" width="601.90" height="371.30"/></clipPath>
<g clip-path="url(#cr)" fill="none" stroke-linejoin="bevel">
<polyline points="767.10,331.51 767.70,334.77 768.30,331.04 768.90,335.59 769.50,330.83 770.10,335.18 770.70,330.60 771.30,335.27 771.90,328.83 772.50,334.41 773.10,330.44 773.70,334.24 774.30,329.06 774.90,334.16 775.50,324.74 776.10,332.82 776.70,326.28 777.30,332.67 777.90,326.33 778.50,334.65 779.10,325.82 779.20,294.00 779.50,329.98 779.70,334.72 780.30,327.37 780.90,333.66 781.50,325.72 782.10,334.16 782.70,324.23 783.30,333.82 783.90,325.09 784.50,333.77 785.10,324.58 785.70,331.38 786.30,325.36 786.90,330.93 787.50,324.42 788.10,332.40 788.70,323.23 789.30,331.68 789.90,324.10 790.00,288.70 790.30,327.05 790.50,332.81 791.10,324.29 791.70,331.73 792.30,323.48 792.90,328.75 793.50,322.80 794.10,331.86 794.70,321.42 795.30,328.98 795.90,319.55 796.50,330.69 797.10,321.43 797.70,330.20 798.30,318.62 798.90,334.23 799.50,318.91 800.10,327.52 800.70,320.41 801.30,330.62 801.90,321.57 802.50,328.72 803.10,320.93 803.70,325.93 804.30,317.87 804.90,329.24 805.50,317.21 806.10,327.07 806.50,412.50 806.80,322.77 806.70,317.78 807.30,325.17 807.90,316.64 808.50,326.76 809.10,317.82 809.70,327.86 810.00,313.00 810.30,321.79 810.30,317.16 810.90,323.72 811.50,318.69 812.10,323.40 812.70,318.54 813.30,324.84 813.90,314.99 814.50,323.37 814.70,409.00 815.00,320.37 815.10,317.27 815.70,324.42 816.30,315.22 816.90,323.23 817.40,311.40 817.70,319.50 817.50,317.47 818.10,322.73 818.70,314.49 819.30,321.16 819.90,315.90 820.50,322.20 821.10,315.23 821.70,320.64 822.30,312.57 822.90,320.92 823.50,313.51 824.10,320.37 824.70,314.46 825.30,321.14 825.90,312.91 826.50,319.97 827.00,299.00 827.30,315.99 827.10,310.98 827.70,317.52 828.30,313.43 828.90,319.58 829.50,313.26 830.10,317.65 830.70,312.23 831.30,316.07 831.90,311.31 832.50,315.53 833.10,311.40 833.70,315.86 834.30,309.40 834.90,314.54 835.50,310.81 836.10,315.33 836.70,305.20 837.30,315.05 837.90,308.86 838.50,313.62 839.10,308.99 839.70,313.05 840.30,307.32 840.90,313.24 841.50,308.19 842.10,311.35 842.70,306.81 843.30,326.40 843.60,309.11 843.30,311.43 843.90,307.57 844.50,311.64 845.10,306.48 845.70,309.27 846.30,304.97 846.90,308.78 847.50,305.93 848.10,309.19 848.70,304.98 849.30,308.35 849.90,304.18 850.50,307.73 851.10,304.56 851.70,307.06 852.00,323.70 852.30,305.42 852.30,303.91 852.90,288.70 853.20,305.06 852.90,306.95 853.50,303.86 854.10,305.34 854.70,302.45 855.30,305.43 855.90,302.68 856.50,305.39 857.10,302.20 857.70,304.12 858.30,301.61 858.90,304.14 859.20,284.00 859.50,302.56 859.50,301.28 860.10,303.39 860.70,299.74 861.00,283.50 861.30,301.88 861.30,302.88 861.90,300.54 862.50,301.78 863.10,300.12 863.70,301.95 864.30,300.23 864.90,301.31 865.50,299.43 866.10,300.47 866.70,299.42 867.30,300.16 867.90,298.80 868.50,299.58 869.10,298.25 869.70,299.08 870.30,298.35 870.90,298.84 871.50,297.64 872.10,298.47 872.70,297.32 873.30,298.00 873.90,296.99 874.50,297.56 875.10,296.78 875.70,297.24 876.30,296.51 876.90,296.72 877.50,295.92 878.10,296.39 878.70,295.60 879.30,296.22 879.90,295.38 880.50,295.83 881.10,294.95 881.70,295.53 882.30,294.82 882.90,295.01 883.50,294.45 884.10,294.76 884.70,294.18 885.30,294.34 885.90,293.83 886.50,294.23 887.10,293.60 887.70,293.84 888.30,293.33 888.90,293.52 889.50,293.00 890.10,293.21 890.70,292.79 891.30,292.96 891.90,292.57 892.50,292.74 893.10,292.39 893.70,292.46 894.30,292.14 894.90,292.19 895.50,291.90 896.10,291.95 896.70,291.72 897.30,291.72 897.90,291.54 898.50,291.48 899.10,291.34 899.70,291.26 900.36,291.16 900.76,291.10 901.16,291.04 901.56,290.98 901.96,290.92 902.36,290.86 902.76,290.80 903.16,290.75 903.56,290.70 903.96,290.64 904.36,290.59 904.76,290.54 905.16,290.49 905.56,290.44 905.96,290.40 906.36,290.35 906.76,290.31 907.16,290.26 907.56,290.22 907.96,290.18 908.37,290.14 908.77,290.10 909.17,290.06 909.57,290.03 909.97,289.99 910.37,289.96 910.77,289.92 911.17,289.89 911.57,289.86 911.97,289.83 912.37,289.80 912.77,289.78 913.17,289.75 913.57,289.73 913.97,289.70 914.37,289.68 914.77,289.66 915.17,289.64 915.57,289.62 915.97,289.60 916.37,289.59 916.77,289.57 917.18,289.56 917.58,289.55 917.98,289.53 918.38,289.52 918.78,289.51 919.18,289.51 919.58,289.50 919.98,289.50 920.38,289.49 920.78,289.49 921.18,289.49 921.58,289.49 921.98,289.49 922.38,289.49 922.78,289.50 923.18,289.50 923.58,289.51 923.98,289.52 924.38,289.53 924.78,289.54 925.18,289.55 925.59,289.56 925.99,289.57 926.39,289.59 926.79,289.61 927.19,289.63 927.59,289.65 927.99,289.67 928.39,289.69 928.79,289.71 929.19,289.74 929.59,289.76 929.99,289.79 930.39,289.82 930.79,289.85 931.19,289.88 931.59,289.92 931.99,289.95 932.39,289.99 932.79,290.02 933.19,290.06 933.59,290.10 933.99,290.14 934.40,290.18 934.80,290.23 935.20,290.27 935.60,290.32 936.00,290.37 936.40,290.41 936.80,290.46 937.20,290.51 937.60,290.57 938.00,290.62 938.40,290.67 938.80,290.73 939.20,290.79 939.60,290.84 940.00,290.90 940.40,290.96 940.80,291.03 941.20,291.09 941.60,291.15 942.00,291.22 942.40,291.28 942.81,291.35 943.21,291.42 943.61,291.49 944.01,291.56 944.41,291.63 944.81,291.70 945.21,291.77 945.61,291.85 946.01,291.92 946.41,292.00 946.81,292.08 947.21,292.15 947.61,292.23 948.01,292.31 948.41,292.40 948.81,292.48 949.21,292.56 949.61,292.65 950.01,292.73 950.41,292.82 950.81,292.90 951.22,292.99 951.62,293.08 952.02,293.17 952.42,293.26 952.82,293.35 953.22,293.44 953.62,293.54 954.02,293.63 954.42,293.73 954.82,293.82 955.22,293.92 955.62,294.01 956.02,294.11 956.42,294.21 956.82,294.31 957.22,294.41 957.62,294.51 958.02,294.61 958.42,294.72 958.82,294.82 959.22,294.93 959.62,295.03 960.03,295.14 960.43,295.24 960.83,295.35 961.23,295.46 961.63,295.57 962.03,295.67 962.43,295.78 962.83,295.89 963.23,296.01 963.63,296.12 964.03,296.23 964.43,296.34 964.83,296.46 965.23,296.57 965.63,296.69 966.03,296.80 966.43,296.92 966.83,297.03 967.23,297.15 967.63,297.27 968.03,297.39 968.44,297.50 968.84,297.62 969.24,297.74 969.64,297.86 970.04,297.98 970.44,298.11 970.84,298.23 971.24,298.35 971.64,298.47 972.04,298.60 972.44,298.72 972.84,298.84 973.24,298.97 973.64,299.09 974.04,299.22 974.44,299.34 974.84,299.47 975.24,299.60 975.64,299.72 976.04,299.85 976.44,299.98 976.85,300.11 977.25,300.24 977.65,300.36 978.05,300.49 978.45,300.62 978.85,300.75 979.25,300.88 979.65,301.01 980.05,301.14 980.45,301.27 980.85,301.40 981.25,301.54 981.65,301.67 982.05,301.80 982.45,301.93 982.85,302.06 983.25,302.20 983.65,302.33 984.05,302.46 984.45,302.60 984.85,302.73 985.25,302.86 985.66,303.00 986.06,303.13 986.46,303.26 986.86,303.40 987.26,303.53 987.66,303.67 988.06,303.80 988.46,303.94 988.86,304.07 989.26,304.21 989.66,304.34 990.06,304.48 990.46,304.61 990.86,304.75 991.26,304.88 991.66,305.02 992.06,305.15 992.46,305.29 992.86,305.42 993.26,305.56 993.66,305.69 994.07,305.83 994.47,305.96 994.87,306.10 995.27,306.23 995.67,306.37 996.07,306.51 996.47,306.64 996.87,306.78 997.27,306.91 997.67,307.05 998.07,307.19 998.47,307.32 998.87,307.46 999.27,307.59 999.67,307.73 1000.07,307.87 1000.47,308.00 1000.87,308.14 1001.27,308.27 1001.67,308.41 1002.07,308.55 1002.47,308.68 1002.88,308.82 1003.28,308.96 1003.68,309.09 1004.08,309.23 1004.48,309.37 1004.88,309.50 1005.28,309.64 1005.68,309.77 1006.08,309.91 1006.48,310.05 1006.88,310.18 1007.28,310.32 1007.68,310.46 1008.08,310.59 1008.48,310.73 1008.88,310.87 1009.28,311.00 1009.68,311.14 1010.08,311.28 1010.48,311.41 1010.88,311.55 1011.29,311.69 1011.69,311.82 1012.09,311.96 1012.49,312.10 1012.89,312.23 1013.29,312.37 1013.69,312.50 1014.09,312.64 1014.49,312.78 1014.89,312.91 1015.29,313.05 1015.69,313.19 1016.09,313.32 1016.49,313.46 1016.89,313.60 1017.29,313.73 1017.69,313.87 1018.09,314.00 1018.49,314.14 1018.89,314.28 1019.29,314.41 1019.70,314.55 1020.10,314.69 1020.50,314.82 1020.90,314.96 1021.30,315.09 1021.70,315.23 1022.10,315.37 1022.50,315.50 1022.90,315.64 1023.30,315.77 1023.70,315.91 1024.10,316.05 1024.50,316.18 1024.90,316.32 1025.30,316.45 1025.70,316.59 1026.10,316.72 1026.50,316.86 1026.90,316.99 1027.30,317.13 1027.70,317.26 1028.10,317.40 1028.51,317.54 1028.91,317.67 1029.31,317.81 1029.71,317.94 1030.11,318.08 1030.51,318.21 1030.91,318.34 1031.31,318.48 1031.71,318.61 1032.11,318.75 1032.51,318.88 1032.91,319.02 1033.31,319.15 1033.71,319.29 1034.11,319.42 1034.51,319.55 1034.91,319.69 1035.31,319.82 1035.71,319.96 1036.11,320.09 1036.51,320.22 1036.92,320.36 1037.32,320.49 1037.72,320.62 1038.12,320.76 1038.52,320.89 1038.92,321.02 1039.32,321.16 1039.72,321.29 1040.12,321.42 1040.52,321.56 1040.92,321.69 1041.32,321.82 1041.72,321.95 1042.12,322.09 1042.52,322.22 1042.92,322.35 1043.32,322.48 1043.72,322.62 1044.12,322.75 1044.52,322.88 1044.92,323.01 1045.32,323.14 1045.73,323.27 1046.13,323.40 1046.53,323.54 1046.93,323.67 1047.33,323.80 1047.73,323.93 1048.13,324.06 1048.53,324.19 1048.93,324.32 1049.33,324.45 1049.73,324.58 1050.13,324.71 1050.53,324.84 1050.93,324.97 1051.33,325.10 1051.73,325.23 1052.13,325.36 1052.53,325.49 1052.93,325.62 1053.33,325.75 1053.73,325.88 1054.14,326.01 1054.54,326.13 1054.94,326.26 1055.34,326.39 1055.74,326.52 1056.14,326.65 1056.54,326.77 1056.94,326.90 1057.34,327.03 1057.74,327.16 1058.14,327.28 1058.54,327.41 1058.94,327.54 1059.34,327.67 1059.74,327.79 1060.14,327.92 1060.54,328.04 1060.94,328.17 1061.34,328.30 1061.74,328.42 1062.14,328.55 1062.55,328.67 1062.95,328.80 1063.35,328.92 1063.75,329.05 1064.15,329.17 1064.55,329.30 1064.95,329.42 1065.35,329.55 1065.75,329.67 1066.15,329.80 1066.55,329.92 1066.95,330.04 1067.35,330.17 1067.75,330.29 1068.15,330.41 1068.55,330.54 1068.95,330.66 1069.35,330.78 1069.75,330.90 1070.15,331.02 1070.55,331.15 1070.95,331.27 1071.36,331.39 1071.76,331.51 1072.16,331.63 1072.56,331.75 1072.96,331.87 1073.36,331.99 1073.76,332.11 1074.16,332.23 1074.56,332.35 1074.96,332.47 1075.36,332.59 1075.76,332.71 1076.16,332.83 1076.56,332.95 1076.96,333.07 1077.36,333.19 1077.76,333.31 1078.16,333.42 1078.56,333.54 1078.96,333.66 1079.36,333.78 1079.77,333.89 1080.17,334.01 1080.57,334.13 1080.97,334.24 1081.37,334.36 1081.77,334.47 1082.17,334.59 1082.57,334.71 1082.97,334.82 1083.37,334.94 1083.77,335.05 1084.17,335.17 1084.57,335.28 1084.97,335.39 1085.37,335.51 1085.77,335.62 1086.17,335.73 1086.57,335.85 1086.97,335.96 1087.37,336.07 1087.77,336.19 1088.18,336.30 1088.58,336.41 1088.98,336.52 1089.38,336.63 1089.78,336.74 1090.18,336.85 1090.58,336.96 1090.98,337.07 1091.38,337.18 1091.78,337.29 1092.18,337.40 1092.58,337.51 1092.98,337.62 1093.38,337.73 1093.78,337.84 1094.18,337.95 1094.58,338.06 1094.98,338.16 1095.38,338.27 1095.78,338.38 1096.18,338.48 1096.58,338.59 1096.99,338.70 1097.39,338.80 1097.79,338.91 1098.19,339.01 1098.59,339.12 1098.99,339.22 1099.39,339.33 1099.79,339.43 1100.19,339.54 1100.59,339.64 1100.99,339.74 1101.39,339.85 1101.79,339.95 1102.19,340.05 1102.59,340.15 1102.99,340.26 1103.39,340.36 1103.79,340.46 1104.19,340.56 1104.59,340.66 1104.99,340.76 1105.40,340.86 1105.80,340.96 1106.20,341.06 1106.60,341.16 1107.00,341.26 1107.40,341.36 1107.80,341.46 1108.20,341.55 1108.60,341.65 1109.00,341.75 1109.40,341.85 1109.80,341.94 1110.20,342.04 1110.60,342.13 1111.00,342.23 1111.40,342.33 1111.80,342.42 1112.20,342.52 1112.60,342.61 1113.00,342.70 1113.40,342.80 1113.80,342.89 1114.21,342.98 1114.61,343.08 1115.01,343.17 1115.41,343.26 1115.81,343.35 1116.21,343.44 1116.61,343.53 1117.01,343.63 1117.41,343.72 1117.81,343.81 1118.21,343.90 1118.61,343.98 1119.01,344.07 1119.41,344.16 1119.81,344.25 1120.21,344.34 1120.61,344.43 1121.01,344.51 1121.41,344.60 1121.81,344.69 1122.21,344.77 1122.62,344.86 1123.02,344.94 1123.42,345.03 1123.82,345.11 1124.22,345.20 1124.62,345.28 1125.02,345.37 1125.42,345.45 1125.82,345.53 1126.22,345.62 1126.62,345.70 1127.02,345.78 1127.42,345.86 1127.82,345.94 1128.22,346.02 1128.62,346.10 1129.02,346.18 1129.42,346.26 1129.82,346.34 1130.22,346.42 1130.62,346.50 1131.03,346.58 1131.43,346.66 1131.83,346.74 1132.23,346.81 1132.63,346.89 1133.03,346.97 1133.43,347.05 1133.83,347.12 1134.23,347.20 1134.63,347.27 1135.03,347.35 1135.43,347.42 1135.83,347.50 1136.23,347.57 1136.63,347.65 1137.03,347.72 1137.43,347.79 1137.83,347.87 1138.23,347.94 1138.63,348.01 1139.03,348.08 1139.43,348.16 1139.84,348.23 1140.24,348.30 1140.64,348.37 1141.04,348.44 1141.44,348.51 1141.84,348.58 1142.24,348.65 1142.64,348.72 1143.04,348.79 1143.44,348.86 1143.84,348.92 1144.24,348.99 1144.64,349.06 1145.04,349.13 1145.44,349.19 1145.84,349.26 1146.24,349.33 1146.64,349.39 1147.04,349.46 1147.44,349.53 1147.84,349.59 1148.25,349.66 1148.65,349.72 1149.05,349.78 1149.45,349.85 1149.85,349.91 1150.25,349.98 1150.65,350.04 1151.05,350.10 1151.45,350.16 1151.85,350.23 1152.25,350.29 1152.65,350.35 1153.05,350.41 1153.45,350.47 1153.85,350.53 1154.25,350.59 1154.65,350.65 1155.05,350.71 1155.45,350.77 1155.85,350.83 1156.25,350.89 1156.65,350.95 1157.06,351.01 1157.46,351.07 1157.86,351.12 1158.26,351.18 1158.66,351.24 1159.06,351.30 1159.46,351.35 1159.86,351.41 1160.26,351.47 1160.66,351.52 1161.06,351.58 1161.46,351.63 1161.86,351.69 1162.26,351.74 1162.66,351.80 1163.06,351.85 1163.46,351.91 1163.86,351.96 1164.26,352.01 1164.66,352.07 1165.06,352.12 1165.47,352.17 1165.87,352.22 1166.27,352.27 1166.67,352.33 1167.07,352.38 1167.47,352.43 1167.87,352.48 1168.27,352.53 1168.67,352.58 1169.07,352.63 1169.47,352.68 1169.87,352.73 1170.27,352.78 1170.67,352.83 1171.07,352.88 1171.47,352.93 1171.87,352.98 1172.27,353.02 1172.67,353.07 1173.07,353.12 1173.47,353.17 1173.88,353.21 1174.28,353.26 1174.68,353.31 1175.08,353.35 1175.48,353.40 1175.88,353.44 1176.28,353.49 1176.68,353.54 1177.08,353.58 1177.48,353.63 1177.88,353.67 1178.28,353.71 1178.68,353.76 1179.08,353.80 1179.48,353.85 1179.88,353.89 1180.28,353.93 1180.68,353.97 1181.08,354.02 1181.48,354.06 1181.88,354.10 1182.28,354.14 1182.69,354.18 1183.09,354.23 1183.49,354.27 1183.89,354.31 1184.29,354.35 1184.69,354.39 1185.09,354.43 1185.49,354.47 1185.89,354.51 1186.29,354.55 1186.69,354.59 1187.09,354.63 1187.49,354.66 1187.89,354.70 1188.29,354.74 1188.69,354.78 1189.09,354.82 1189.49,354.85 1189.89,354.89 1190.29,354.93 1190.69,354.97 1191.10,355.00 1191.50,355.04 1191.90,355.08 1192.30,355.11 1192.70,355.15 1193.10,355.18 1193.50,355.22 1193.90,355.25 1194.30,355.29 1194.70,355.32 1195.10,355.36 1195.50,355.39 1195.90,355.43 1196.30,355.46 1196.70,355.49 1197.10,355.53 1197.50,355.56 1197.90,355.59 1198.30,355.63 1198.70,355.66 1199.10,355.69 1199.51,355.72 1199.91,355.75 1200.31,355.79 1200.71,355.82 1201.11,355.85 1201.51,355.88 1201.91,355.91 1202.31,355.94 1202.71,355.97 1203.11,356.00 1203.51,356.03 1203.91,356.06 1204.31,356.09 1204.71,356.12 1205.11,356.15 1205.51,356.18 1205.91,356.21 1206.31,356.24 1206.71,356.27 1207.11,356.29 1207.51,356.32 1207.91,356.35 1208.32,356.38 1208.72,356.40 1209.12,356.43 1209.52,356.46 1209.92,356.49 1210.32,356.51 1210.72,356.54 1211.12,356.57 1211.52,356.59 1211.92,356.62 1212.32,356.64 1212.72,356.67 1213.12,356.69 1213.52,356.72 1213.92,356.74 1214.32,356.77 1214.72,356.79 1215.12,356.82 1215.52,356.84 1215.92,356.87 1216.32,356.89 1216.73,356.91 1217.13,356.94 1217.53,356.96 1217.93,356.98 1218.33,357.01 1218.73,357.03 1219.13,357.05 1219.53,357.08 1219.93,357.10 1220.33,357.12 1220.73,357.14 1221.13,357.16 1221.53,357.19 1221.93,357.21 1222.33,357.23 1222.73,357.25 1223.13,357.27 1223.53,357.29 1223.93,357.31 1224.33,357.33 1224.73,357.35 1225.13,357.37 1225.54,357.39 1225.94,357.41 1226.34,357.43 1226.74,357.45 1227.14,357.47 1227.54,357.49 1227.94,357.51 1228.34,357.53 1228.74,357.55 1229.14,357.57 1229.54,357.58 1229.94,357.60 1230.34,357.62 1230.74,357.64 1231.14,357.66 1231.54,357.67 1231.94,357.69 1232.34,357.71 1232.74,357.73 1233.14,357.74 1233.54,357.76 1233.95,357.78 1234.35,357.79 1234.75,357.81 1235.15,357.83 1235.55,357.84 1235.95,357.86 1236.35,357.87 1236.75,357.89 1237.15,357.90 1237.55,357.92 1237.95,357.94 1238.35,357.95 1238.75,357.97 1239.15,357.98 1239.55,358.00 1239.95,358.01 1240.35,358.02 1240.75,358.04 1241.15,358.05 1241.55,358.07 1241.95,358.08 1242.36,358.09 1242.76,358.11 1243.16,358.12 1243.56,358.14 1243.96,358.15 1244.36,358.16 1244.76,358.17 1245.16,358.19 1245.56,358.20 1245.96,358.21 1246.36,358.23 1246.76,358.24 1247.16,358.25 1247.56,358.26 1247.96,358.27 1248.36,358.29 1248.76,358.30 1249.16,358.31 1249.56,358.32 1249.96,358.33 1250.36,358.34 1250.76,358.35 1251.17,358.37 1251.57,358.38 1251.97,358.39 1252.37,358.40 1252.77,358.41 1253.17,358.42 1253.57,358.43 1253.97,358.44 1254.37,358.45 1254.77,358.46 1255.17,358.47 1255.57,358.48 1255.97,358.49 1256.37,358.50 1256.77,358.51 1257.17,358.52 1257.57,358.53 1257.97,358.54 1258.37,358.55 1258.77,358.55 1259.17,358.56 1259.58,358.57 1259.98,358.58 1260.38,358.59 1260.78,358.60 1261.18,358.61 1261.58,358.61 1261.98,358.62 1262.38,358.63 1262.78,358.64 1263.18,358.65 1263.58,358.65 1263.98,358.66 1264.38,358.67 1264.78,358.68 1265.18,358.68 1265.58,358.69 1265.98,358.70 1266.38,358.71 1266.78,358.71 1267.18,358.72 1267.58,358.73 1267.98,358.73 1268.39,358.74 1268.79,358.75 1269.19,358.75 1269.59,358.76 1269.99,358.77 1270.39,358.77 1270.79,358.78 1271.19,358.79 1271.59,358.79 1271.99,358.80 1272.39,358.80 1272.79,358.81 1273.19,358.81 1273.59,358.82 1273.99,358.83 1274.39,358.83 1274.79,358.84 1275.19,358.84 1275.59,358.85 1275.99,358.85 1276.39,358.86 1276.80,358.86 1277.20,358.87 1277.60,358.87 1278.00,358.88 1278.40,358.88 1278.80,358.89 1279.20,358.89 1279.60,358.90 1280.00,358.90 1280.40,358.91 1280.80,358.91 1281.20,358.91 1281.60,358.92 1282.00,358.92 1282.40,358.93 1282.80,358.93 1283.20,358.94 1283.60,358.94 1284.00,358.94 1284.40,358.95 1284.80,358.95 1285.21,358.95 1285.61,358.96 1286.01,358.96 1286.41,358.97 1286.81,358.97 1287.21,358.97 1287.61,358.98 1288.01,358.98 1288.41,358.98 1288.81,358.99 1289.21,358.99 1289.61,358.99 1290.01,359.00 1290.41,359.00 1290.81,359.00 1291.21,359.00 1291.61,359.01 1292.01,359.01 1292.41,359.01 1292.81,359.02 1293.21,359.02 1293.61,359.02 1294.02,359.02 1294.42,359.03 1294.82,359.03 1295.22,359.03 1295.62,359.04 1296.02,359.04 1296.42,359.04 1296.82,359.04 1297.22,359.05 1297.62,359.05 1298.02,359.05 1298.42,359.05 1298.82,359.05 1299.22,359.06 1299.62,359.06 1300.02,359.06 1300.42,359.06 1300.82,359.07 1301.22,359.07 1301.62,359.07 1302.02,359.07 1302.43,359.07 1302.83,359.08 1303.23,359.08 1303.63,359.08 1304.03,359.08 1304.43,359.08 1304.83,359.09 1305.23,359.09 1305.63,359.09 1306.03,359.09 1306.43,359.09 1306.83,359.10 1307.23,359.10 1307.63,359.10 1308.03,359.10 1308.43,359.10 1308.83,359.10 1309.23,359.11 1309.63,359.11 1310.03,359.11 1310.43,359.11 1310.84,359.11 1311.24,359.12 1311.64,359.12 1312.04,359.12 1312.44,359.12 1312.84,359.12 1313.24,359.12 1313.64,359.13 1314.04,359.13 1314.44,359.13 1314.84,359.13 1315.24,359.13 1315.64,359.13 1316.04,359.14 1316.44,359.14 1316.84,359.14 1317.24,359.14 1317.64,359.14 1318.04,359.14 1318.44,359.15 1318.84,359.15 1319.24,359.15 1319.65,359.15 1320.05,359.15 1320.45,359.15 1320.85,359.16 1321.25,359.16 1321.65,359.16 1322.05,359.16 1322.45,359.16 1322.85,359.17 1323.25,359.17 1323.65,359.17 1324.05,359.17 1324.45,359.17 1324.85,359.17 1325.25,359.18 1325.65,359.18 1326.05,359.18 1326.45,359.18 1326.85,359.18 1327.25,359.19 1327.65,359.19 1328.06,359.19 1328.46,359.19 1328.86,359.19 1329.26,359.20 1329.66,359.20 1330.06,359.20 1330.46,359.20 1330.86,359.21 1331.26,359.21 1331.66,359.21 1332.06,359.21 1332.46,359.21 1332.86,359.22 1333.26,359.22 1333.66,359.22 1334.06,359.22 1334.46,359.23 1334.86,359.23 1335.26,359.23 1335.66,359.23 1336.06,359.24 1336.46,359.24 1336.87,359.24 1337.27,359.24 1337.67,359.25 1338.07,359.25 1338.47,359.25 1338.87,359.26 1339.27,359.26 1339.67,359.26 1340.07,359.27 1340.47,359.27 1340.87,359.27 1341.27,359.27 1341.67,359.28 1342.07,359.28 1342.47,359.28 1342.87,359.29 1343.27,359.29 1343.67,359.29 1344.07,359.30 1344.47,359.30 1344.87,359.31 1345.28,359.31 1345.68,359.31 1346.08,359.32 1346.48,359.32 1346.88,359.32 1347.28,359.33 1347.68,359.33 1348.08,359.34 1348.48,359.34 1348.88,359.34 1349.28,359.35 1349.68,359.35 1350.08,359.36 1350.48,359.36 1350.88,359.37 1351.28,359.37 1351.68,359.38 1352.08,359.38 1352.48,359.39 1352.88,359.39 1353.28,359.40 1353.69,359.40 1354.09,359.41 1354.49,359.41 1354.89,359.42 1355.29,359.42 1355.69,359.43 1356.09,359.43 1356.49,359.44 1356.89,359.44 1357.29,359.45 1357.69,359.45 1358.09,359.46 1358.49,359.47 1358.89,359.47 1359.29,359.48 1359.69,359.48 1360.09,359.49 1360.49,359.50 1360.89,359.50 1361.29,359.51 1361.69,359.52 1362.09,359.52 1362.50,359.53 1362.90,359.54 1363.30,359.54 1363.70,359.55 1364.10,359.56 1364.50,359.56 1364.90,359.57 1365.30,359.58 1365.70,359.59 1366.10,359.59 1366.50,359.60" stroke="#0000ff" stroke-width="3.20"/>
<polyline points="765.80,289.60 766.20,289.57 766.60,289.54 767.00,289.53 767.40,289.52 767.80,289.53 768.20,289.54 768.61,289.57 769.01,289.61 769.41,289.65 769.81,289.70 770.21,289.77 770.61,289.84 771.01,289.92 771.41,290.01 771.81,290.10 772.21,290.21 772.61,290.32 773.01,290.44 773.41,290.57 773.81,290.71 774.22,290.85 774.62,291.01 775.02,291.16 775.42,291.33 775.82,291.50 776.22,291.68 776.62,291.87 777.02,292.06 777.42,292.25 777.82,292.46 778.22,292.67 778.62,292.88 779.02,293.10 779.42,293.33 779.83,293.56 780.23,293.80 780.63,294.04 781.03,294.28 781.43,294.53 781.83,294.79 782.23,295.04 782.63,295.31 783.03,295.57 783.43,295.84 783.83,296.12 784.23,296.39 784.63,296.67 785.03,296.96 785.44,297.25 785.84,297.54 786.24,297.83 786.64,298.13 787.04,298.43 787.44,298.74 787.84,299.05 788.24,299.36 788.64,299.67 789.04,299.99 789.44,300.31 789.84,300.63 790.24,300.96 790.64,301.29 791.05,301.62 791.45,301.96 791.85,302.29 792.25,302.63 792.65,302.98 793.05,303.32 793.45,303.67 793.85,304.02 794.25,304.37 794.65,304.72 795.05,305.08 795.45,305.44 795.85,305.80 796.25,306.17 796.66,306.53 797.06,306.90 797.46,307.27 797.86,307.64 798.26,308.01 798.66,308.39 799.06,308.76 799.46,309.14 799.86,309.52 800.26,309.90 800.66,310.29 801.06,310.67 801.46,311.06 801.86,311.45 802.27,311.84 802.67,312.23 803.07,312.62 803.47,313.01 803.87,313.40 804.27,313.80 804.67,314.19 805.07,314.59 805.47,314.99 805.87,315.38 806.27,315.78 806.67,316.18 807.07,316.57 807.47,316.97 807.88,317.37 808.28,317.77 808.68,318.16 809.08,318.56 809.48,318.96 809.88,319.35 810.28,319.75 810.68,320.14 811.08,320.53 811.48,320.93 811.88,321.32 812.28,321.71 812.68,322.10 813.08,322.48 813.49,322.87 813.89,323.25 814.29,323.63 814.69,324.01 815.09,324.39 815.49,324.77 815.89,325.14 816.29,325.51 816.69,325.88 817.09,326.25 817.49,326.61 817.89,326.97 818.29,327.33 818.70,327.69 819.10,328.04 819.50,328.39 819.90,328.74 820.30,329.08 820.70,329.42 821.10,329.76 821.50,330.09 821.90,330.42 822.30,330.75 822.70,331.07 823.10,331.39 823.50,331.71 823.90,332.02 824.31,332.33 824.71,332.64 825.11,332.95 825.51,333.25 825.91,333.55 826.31,333.85 826.71,334.14 827.11,334.43 827.51,334.72 827.91,335.00 828.31,335.29 828.71,335.57 829.11,335.84 829.51,336.12 829.92,336.39 830.32,336.66 830.72,336.92 831.12,337.19 831.52,337.45 831.92,337.71 832.32,337.96 832.72,338.22 833.12,338.47 833.52,338.72 833.92,338.96 834.32,339.21 834.72,339.45 835.12,339.69 835.53,339.93 835.93,340.16 836.33,340.39 836.73,340.63 837.13,340.85 837.53,341.08 837.93,341.30 838.33,341.53 838.73,341.75 839.13,341.96 839.53,342.18 839.93,342.39 840.33,342.60 840.73,342.81 841.14,343.02 841.54,343.23 841.94,343.43 842.34,343.63 842.74,343.83 843.14,344.03 843.54,344.23 843.94,344.42 844.34,344.61 844.74,344.80 845.14,344.99 845.54,345.18 845.94,345.36 846.34,345.54 846.75,345.73 847.15,345.90 847.55,346.08 847.95,346.26 848.35,346.43 848.75,346.60 849.15,346.77 849.55,346.94 849.95,347.11 850.35,347.27 850.75,347.43 851.15,347.60 851.55,347.76 851.95,347.91 852.36,348.07 852.76,348.22 853.16,348.38 853.56,348.53 853.96,348.68 854.36,348.82 854.76,348.97 855.16,349.11 855.56,349.26 855.96,349.40 856.36,349.54 856.76,349.68 857.16,349.81 857.56,349.95 857.97,350.08 858.37,350.21 858.77,350.34 859.17,350.47 859.57,350.60 859.97,350.72 860.37,350.85 860.77,350.97 861.17,351.09 861.57,351.21 861.97,351.33 862.37,351.44 862.77,351.56 863.18,351.67 863.58,351.79 863.98,351.90 864.38,352.01 864.78,352.11 865.18,352.22 865.58,352.33 865.98,352.43 866.38,352.53 866.78,352.63 867.18,352.73 867.58,352.83 867.98,352.93 868.38,353.03 868.79,353.12 869.19,353.21 869.59,353.31 869.99,353.40 870.39,353.49 870.79,353.57 871.19,353.66 871.59,353.75 871.99,353.83 872.39,353.91 872.79,354.00 873.19,354.08 873.59,354.16 873.99,354.23 874.40,354.31 874.80,354.39 875.20,354.46 875.60,354.53 876.00,354.61 876.40,354.68 876.80,354.75 877.20,354.81 877.60,354.88 878.00,354.95 878.40,355.01 878.80,355.07 879.20,355.14 879.60,355.20 880.01,355.26 880.41,355.32 880.81,355.37 881.21,355.43 881.61,355.49 882.01,355.54 882.41,355.59 882.81,355.65 883.21,355.70 883.61,355.75 884.01,355.79 884.41,355.84 884.81,355.89 885.21,355.93 885.62,355.98 886.02,356.02 886.42,356.06 886.82,356.10 887.22,356.14 887.62,356.18 888.02,356.22 888.42,356.25 888.82,356.29 889.22,356.32 889.62,356.36 890.02,356.39 890.42,356.42 890.82,356.45 891.23,356.48 891.63,356.51 892.03,356.54 892.43,356.56 892.83,356.59 893.23,356.61 893.63,356.63 894.03,356.66 894.43,356.68 894.83,356.70 895.23,356.72 895.63,356.73 896.03,356.75 896.43,356.77 896.84,356.78 897.24,356.80 897.64,356.81 898.04,356.82 898.44,356.84 898.84,356.85 899.24,356.86 899.64,356.87 900.04,356.87 900.44,356.88 900.84,356.89 901.24,356.89 901.64,356.90 902.04,356.90 902.45,356.91 902.85,356.91 903.25,356.91 903.65,356.91 904.05,356.91 904.45,356.91 904.85,356.91 905.25,356.91 905.65,356.91 906.05,356.91 906.45,356.90 906.85,356.90 907.25,356.89 907.65,356.89 908.06,356.88 908.46,356.88 908.86,356.87 909.26,356.86 909.66,356.85 910.06,356.85 910.46,356.84 910.86,356.83 911.26,356.82 911.66,356.81 912.06,356.80 912.46,356.79 912.86,356.77 913.27,356.76 913.67,356.75 914.07,356.74 914.47,356.72 914.87,356.71 915.27,356.70 915.67,356.68 916.07,356.67 916.47,356.65 916.87,356.64 917.27,356.62 917.67,356.61 918.07,356.59 918.47,356.58 918.88,356.56 919.28,356.55 919.68,356.53 920.08,356.51 920.48,356.50 920.88,356.48 921.28,356.46 921.68,356.45 922.08,356.43 922.48,356.41 922.88,356.39 923.28,356.38 923.68,356.36 924.08,356.34 924.49,356.33 924.89,356.31 925.29,356.29 925.69,356.27 926.09,356.26 926.49,356.24 926.89,356.22 927.29,356.20 927.69,356.19 928.09,356.17 928.49,356.15 928.89,356.13 929.29,356.12 929.69,356.10 930.10,356.08 930.50,356.07 930.90,356.05 931.30,356.03 931.70,356.01 932.10,356.00 932.50,355.98 932.90,355.96 933.30,355.95 933.70,355.93 934.10,355.91 934.50,355.90 934.90,355.88 935.30,355.86 935.71,355.85 936.11,355.83 936.51,355.81 936.91,355.80 937.31,355.78 937.71,355.76 938.11,355.75 938.51,355.73 938.91,355.71 939.31,355.70 939.71,355.68 940.11,355.67 940.51,355.65 940.91,355.63 941.32,355.62 941.72,355.60 942.12,355.59 942.52,355.57 942.92,355.56 943.32,355.54 943.72,355.53 944.12,355.51 944.52,355.50 944.92,355.48 945.32,355.47 945.72,355.45 946.12,355.44 946.52,355.42 946.93,355.41 947.33,355.40 947.73,355.38 948.13,355.37 948.53,355.35 948.93,355.34 949.33,355.33 949.73,355.31 950.13,355.30 950.53,355.29 950.93,355.27 951.33,355.26 951.73,355.25 952.13,355.24 952.54,355.22 952.94,355.21 953.34,355.20 953.74,355.19 954.14,355.18 954.54,355.16 954.94,355.15 955.34,355.14 955.74,355.13 956.14,355.12 956.54,355.11 956.94,355.10 957.34,355.09 957.75,355.08 958.15,355.06 958.55,355.05 958.95,355.04 959.35,355.03 959.75,355.02 960.15,355.01 960.55,355.01 960.95,355.00 961.35,354.99 961.75,354.98 962.15,354.97 962.55,354.96 962.95,354.95 963.36,354.94 963.76,354.93 964.16,354.92 964.56,354.92 964.96,354.91 965.36,354.90 965.76,354.89 966.16,354.88 966.56,354.88 966.96,354.87 967.36,354.86 967.76,354.85 968.16,354.85 968.56,354.84 968.97,354.83 969.37,354.82 969.77,354.82 970.17,354.81 970.57,354.80 970.97,354.80 971.37,354.79 971.77,354.78 972.17,354.78 972.57,354.77 972.97,354.77 973.37,354.76 973.77,354.75 974.17,354.75 974.58,354.74 974.98,354.74 975.38,354.73 975.78,354.73 976.18,354.72 976.58,354.71 976.98,354.71 977.38,354.70 977.78,354.70 978.18,354.69 978.58,354.69 978.98,354.68 979.38,354.68 979.78,354.67 980.19,354.67 980.59,354.67 980.99,354.66 981.39,354.66 981.79,354.65 982.19,354.65 982.59,354.64 982.99,354.64 983.39,354.63 983.79,354.63 984.19,354.63 984.59,354.62 984.99,354.62 985.39,354.61 985.80,354.61 986.20,354.61 986.60,354.60 987.00,354.60 987.40,354.60 987.80,354.59 988.20,354.59 988.60,354.58 989.00,354.58 989.40,354.58 989.80,354.57 990.20,354.57 990.60,354.56 991.00,354.56 991.41,354.56 991.81,354.55 992.21,354.55 992.61,354.54 993.01,354.54 993.41,354.54 993.81,354.53 994.21,354.53 994.61,354.52 995.01,354.52 995.41,354.51 995.81,354.51 996.21,354.50 996.61,354.50 997.02,354.49 997.42,354.49 997.82,354.48 998.22,354.48 998.62,354.47 999.02,354.47 999.42,354.46 999.82,354.46 1000.22,354.45 1000.62,354.44 1001.02,354.44 1001.42,354.43 1001.82,354.43 1002.22,354.42 1002.63,354.41 1003.03,354.41 1003.43,354.40 1003.83,354.39 1004.23,354.38 1004.63,354.38 1005.03,354.37 1005.43,354.36 1005.83,354.35 1006.23,354.35 1006.63,354.34 1007.03,354.33 1007.43,354.32 1007.84,354.31 1008.24,354.30 1008.64,354.29 1009.04,354.28 1009.44,354.27 1009.84,354.26 1010.24,354.25 1010.64,354.24 1011.04,354.23 1011.44,354.22 1011.84,354.21 1012.24,354.19 1012.64,354.18 1013.04,354.17 1013.45,354.16 1013.85,354.14 1014.25,354.13 1014.65,354.12 1015.05,354.10 1015.45,354.09 1015.85,354.07 1016.25,354.05 1016.65,354.04 1017.05,354.02 1017.45,354.00 1017.85,353.98 1018.25,353.96 1018.65,353.94 1019.06,353.92 1019.46,353.90 1019.86,353.88 1020.26,353.86 1020.66,353.84 1021.06,353.81 1021.46,353.79 1021.86,353.76 1022.26,353.74 1022.66,353.71 1023.06,353.68 1023.46,353.65 1023.86,353.62 1024.26,353.59 1024.67,353.56 1025.07,353.53 1025.47,353.49 1025.87,353.46 1026.27,353.42 1026.67,353.39 1027.07,353.35 1027.47,353.31 1027.87,353.27 1028.27,353.23 1028.67,353.19 1029.07,353.14 1029.47,353.10 1029.87,353.05 1030.28,353.00 1030.68,352.96 1031.08,352.91 1031.48,352.86 1031.88,352.80 1032.28,352.75 1032.68,352.70 1033.08,352.64 1033.48,352.58 1033.88,352.52 1034.28,352.46 1034.68,352.40 1035.08,352.34 1035.48,352.28 1035.89,352.21 1036.29,352.14 1036.69,352.07 1037.09,352.00 1037.49,351.93 1037.89,351.86 1038.29,351.78 1038.69,351.70 1039.09,351.63 1039.49,351.55 1039.89,351.47 1040.29,351.38 1040.69,351.30 1041.09,351.21 1041.50,351.13 1041.90,351.04 1042.30,350.95 1042.70,350.85 1043.10,350.76 1043.50,350.67 1043.90,350.57 1044.30,350.47 1044.70,350.38 1045.10,350.28 1045.50,350.17 1045.90,350.07 1046.30,349.97 1046.70,349.86 1047.11,349.76 1047.51,349.65 1047.91,349.54 1048.31,349.43 1048.71,349.32 1049.11,349.20 1049.51,349.09 1049.91,348.97 1050.31,348.85 1050.71,348.74 1051.11,348.62 1051.51,348.50 1051.91,348.38 1052.32,348.25 1052.72,348.13 1053.12,348.00 1053.52,347.88 1053.92,347.75 1054.32,347.62 1054.72,347.49 1055.12,347.36 1055.52,347.23 1055.92,347.09 1056.32,346.96 1056.72,346.82 1057.12,346.69 1057.52,346.55 1057.93,346.41 1058.33,346.26 1058.73,346.12 1059.13,345.97 1059.53,345.82 1059.93,345.67 1060.33,345.51 1060.73,345.35 1061.13,345.19 1061.53,345.02 1061.93,344.85 1062.33,344.68 1062.73,344.50 1063.13,344.31 1063.54,344.13 1063.94,343.94 1064.34,343.74 1064.74,343.54 1065.14,343.33 1065.54,343.12 1065.94,342.90 1066.34,342.68 1066.74,342.45 1067.14,342.22 1067.54,341.97 1067.94,341.73 1068.34,341.47 1068.74,341.21 1069.15,340.94 1069.55,340.67 1069.95,340.39 1070.35,340.10 1070.75,339.81 1071.15,339.50 1071.55,339.20 1071.95,338.88 1072.35,338.56 1072.75,338.24 1073.15,337.90 1073.55,337.56 1073.95,337.22 1074.35,336.87 1074.76,336.51 1075.16,336.15 1075.56,335.78 1075.96,335.40 1076.36,335.02 1076.76,334.64 1077.16,334.24 1077.56,333.85 1077.96,333.44 1078.36,333.04 1078.76,332.62 1079.16,332.20 1079.56,331.78 1079.96,331.35 1080.37,330.92 1080.77,330.48 1081.17,330.03 1081.57,329.58 1081.97,329.13 1082.37,328.67 1082.77,328.21 1083.17,327.74 1083.57,327.27 1083.97,326.79 1084.37,326.31 1084.77,325.82 1085.17,325.33 1085.57,324.84 1085.98,324.34 1086.38,323.84 1086.78,323.34 1087.18,322.83 1087.58,322.32 1087.98,321.81 1088.38,321.30 1088.78,320.78 1089.18,320.26 1089.58,319.74 1089.98,319.22 1090.38,318.70 1090.78,318.17 1091.18,317.65 1091.59,317.12 1091.99,316.59 1092.39,316.06 1092.79,315.53 1093.19,315.00 1093.59,314.47 1093.99,313.94 1094.39,313.41 1094.79,312.88 1095.19,312.35 1095.59,311.82 1095.99,311.29 1096.39,310.76 1096.79,310.24 1097.20,309.71 1097.60,309.19 1098.00,308.67 1098.40,308.15 1098.80,307.63 1099.20,307.11 1099.60,306.60 1093.70,314.00 1094.30,313.24 1094.90,312.47 1095.51,311.67 1096.12,310.88 1096.73,310.09 1097.33,309.32 1097.92,308.57 1098.50,307.87 1099.06,307.20 1099.60,306.60 1099.96,306.20 1100.32,305.82 1100.67,305.45 1101.00,305.09 1101.34,304.75 1101.67,304.44 1102.00,304.14 1102.33,303.87 1102.66,303.62 1103.00,303.40 1103.26,303.25 1103.52,303.12 1103.78,303.00 1104.04,302.90 1104.30,302.81 1104.55,302.73 1104.81,302.66 1105.08,302.60 1105.34,302.55 1105.60,302.50 1105.86,302.46 1106.12,302.43 1106.38,302.41 1106.64,302.40 1106.90,302.40 1107.16,302.40 1107.42,302.42 1107.68,302.44 1107.94,302.46 1108.20,302.50 1108.46,302.54 1108.73,302.60 1108.99,302.65 1109.26,302.72 1109.52,302.80 1109.78,302.88 1110.04,302.97 1110.30,303.07 1110.55,303.18 1110.80,303.30 1111.05,303.43 1111.30,303.55 1111.54,303.69 1111.78,303.83 1112.02,303.98 1112.25,304.15 1112.49,304.33 1112.72,304.53 1112.96,304.75 1113.20,305.00 1113.59,305.46 1113.98,306.00 1114.37,306.61 1114.76,307.27 1115.15,307.96 1115.54,308.68 1115.93,309.40 1116.32,310.13 1116.71,310.83 1117.10,311.50 1117.50,312.26 1117.91,313.06 1118.31,313.90 1118.72,314.77 1119.12,315.67 1119.52,316.60 1119.93,317.56 1120.33,318.55 1120.74,319.56 1121.14,320.60 1121.55,321.65 1121.95,322.73 1122.35,323.82 1122.76,324.93 1123.16,326.06 1123.57,327.19 1123.97,328.34 1124.37,329.50 1124.78,330.66 1125.18,331.83 1125.59,333.00 1125.99,334.17 1126.40,335.34 1126.80,336.51 1127.20,337.68 1127.61,338.84 1128.01,339.99 1128.42,341.13 1128.82,342.26 1129.22,343.38 1129.63,344.49 1130.03,345.58 1130.44,346.67 1130.84,347.74 1131.24,348.79 1131.65,349.84 1132.05,350.86 1132.46,351.88 1132.86,352.88 1133.27,353.86 1133.67,354.83 1134.07,355.79 1134.48,356.73 1134.88,357.65 1135.29,358.55 1135.69,359.44 1136.09,360.32 1136.50,361.17 1136.90,362.01 1137.31,362.82 1137.71,363.62 1138.11,364.41 1138.52,365.17 1138.92,365.91 1139.33,366.63 1139.73,367.34 1140.14,368.02 1140.54,368.68 1140.94,369.32 1141.35,369.94 1141.75,370.54 1142.16,371.12 1142.56,371.67 1142.96,372.20 1143.37,372.71 1143.77,373.20 1144.18,373.66 1144.58,374.10 1144.99,374.51 1145.39,374.91 1145.79,375.27 1146.20,375.62 1146.60,375.94 1147.01,376.23 1147.41,376.50 1147.81,376.75 1148.22,376.97 1148.62,377.17 1149.03,377.34 1149.43,377.48 1149.83,377.60 1150.24,377.70 1150.64,377.77 1151.05,377.81 1151.45,377.83 1151.86,377.82 1152.26,377.79" stroke="#ff0000" stroke-width="3.20" stroke-dasharray="10.900 4.800" stroke-dashoffset="0.000"/>
<polyline points="1152.26,377.79 1152.66,377.73 1153.07,377.64 1153.47,377.53 1153.88,377.38 1154.28,377.22 1154.68,377.02 1155.09,376.80 1155.49,376.55 1155.90,376.27 1156.30,375.96 1156.70,375.63 1157.11,375.27 1157.51,374.88 1157.92,374.46 1158.32,374.01 1158.73,373.54 1159.13,373.03 1159.53,372.50 1159.94,371.94 1160.34,371.35 1160.75,370.72 1161.15,370.07 1161.55,369.39 1161.96,368.68 1162.36,367.94 1162.77,367.17 1163.17,366.37 1163.58,365.54 1163.98,364.68 1164.38,363.78 1164.79,362.86 1165.19,361.90 1165.60,360.92 1166.00,359.90 1166.15,359.50 1166.30,359.09 1166.45,358.69 1166.60,358.29 1166.74,357.88 1166.88,357.48 1167.03,357.08 1167.17,356.67 1167.31,356.27 1167.44,355.87 1167.58,355.46 1167.71,355.06 1167.85,354.66 1167.98,354.25 1168.11,353.85 1168.23,353.45 1168.36,353.04 1168.49,352.64 1168.61,352.24 1168.73,351.83 1168.85,351.43 1168.97,351.03 1169.09,350.62 1169.21,350.22 1169.32,349.82 1169.44,349.41 1169.55,349.01 1169.66,348.61 1169.77,348.20 1169.88,347.80 1169.99,347.40 1170.09,346.99 1170.20,346.59 1170.30,346.19 1170.40,345.78 1170.51,345.38 1170.61,344.97 1170.70,344.57 1170.80,344.17 1170.90,343.76 1170.99,343.36 1171.09,342.96 1171.18,342.55 1171.27,342.15 1171.36,341.75 1171.45,341.34 1171.54,340.94 1171.63,340.54 1171.72,340.13 1171.80,339.73 1171.88,339.33 1171.97,338.92 1172.05,338.52 1172.13,338.12 1172.21,337.71 1172.29,337.31 1172.37,336.91 1172.45,336.50 1172.52,336.10 1172.60,335.70 1172.67,335.29 1172.74,334.89 1172.82,334.49 1172.89,334.08 1172.96,333.68 1173.03,333.28 1173.10,332.87 1173.17,332.47 1173.23,332.07 1173.30,331.66 1173.37,331.26 1173.43,330.86 1173.49,330.45 1173.56,330.05 1173.62,329.65 1173.68,329.24 1173.74,328.84 1173.80,328.44 1173.86,328.03 1173.92,327.63 1173.98,327.23 1174.04,326.82 1174.09,326.42 1174.15,326.02 1174.21,325.61 1174.26,325.21 1174.32,324.81 1174.37,324.40 1174.42,324.00 1174.48,323.60 1174.53,323.19 1174.58,322.79 1174.63,322.39 1174.68,321.98 1174.73,321.58 1174.78,321.18 1174.83,320.77 1174.88,320.37 1174.92,319.97 1174.97,319.56 1175.02,319.16 1175.06,318.76 1175.11,318.35 1175.16,317.95 1175.20,317.54 1175.25,317.14 1175.29,316.74 1175.34,316.33 1175.38,315.93 1175.42,315.53 1175.47,315.12 1175.51,314.72 1175.55,314.32 1175.59,313.91 1175.63,313.51 1175.68,313.11 1175.72,312.70 1175.76,312.30 1175.80,311.90 1175.84,311.49 1175.88,311.09 1175.92,310.69 1175.96,310.28 1176.00,309.88 1176.04,309.48 1176.08,309.07 1176.12,308.67 1176.16,308.27 1176.20,307.86 1176.24,307.46 1176.28,307.06 1176.32,306.65 1176.35,306.25 1176.39,305.85 1176.43,305.44 1176.47,305.04 1176.51,304.64 1176.55,304.23 1176.59,303.83 1176.63,303.43 1176.66,303.02 1176.70,302.62 1176.74,302.22 1176.78,301.81 1176.82,301.41 1176.86,301.01 1176.90,300.60 1176.94,300.20 1176.98,299.80 1177.02,299.39 1177.06,298.99 1177.10,298.59 1177.14,298.18 1177.18,297.78 1177.22,297.38 1177.26,296.97 1177.30,296.57 1177.34,296.17 1177.38,295.76 1177.42,295.36 1177.47,294.96 1177.51,294.55 1177.55,294.15 1177.59,293.75 1177.64,293.34 1177.68,292.94 1177.72,292.54 1177.77,292.13 1177.81,291.73 1177.86,291.33 1177.90,290.92 1177.95,290.52 1178.00,290.11 1178.04,289.71 1178.09,289.31 1178.14,288.90 1178.18,288.50 1178.23,288.10 1178.28,287.69 1178.33,287.29 1178.38,286.89 1178.43,286.48 1178.48,286.08 1178.53,285.68 1178.59,285.27 1178.64,284.87 1178.69,284.47 1178.75,284.06 1178.80,283.66 1178.86,283.26 1178.91,282.85 1178.97,282.45 1179.03,282.05 1179.08,281.64 1179.14,281.24 1179.20,280.84 1179.26,280.43 1179.32,280.03 1179.38,279.63 1179.44,279.22 1179.51,278.82 1179.57,278.42 1179.63,278.01 1179.70,277.61 1179.77,277.21 1179.83,276.80 1179.90,276.40 1178.10,290.40 1178.28,288.99 1178.46,287.56 1178.64,286.12 1178.83,284.68 1179.01,283.25 1179.19,281.83 1179.37,280.42 1179.55,279.04 1179.73,277.70 1179.90,276.40 1180.04,275.32 1180.19,274.25 1180.33,273.19 1180.47,272.14 1180.60,271.11 1180.74,270.11 1180.88,269.14 1181.02,268.22 1181.16,267.33 1181.30,266.50 1181.40,265.95 1181.49,265.41 1181.58,264.89 1181.68,264.38 1181.77,263.89 1181.86,263.43 1181.96,262.98 1182.07,262.56 1182.18,262.17 1182.30,261.80 1182.38,261.57 1182.46,261.32 1182.55,261.08 1182.64,260.85 1182.72,260.63 1182.81,260.43 1182.91,260.26 1183.00,260.13 1183.10,260.04 1183.20,260.00 1183.29,260.01 1183.38,260.04 1183.47,260.11 1183.56,260.19 1183.66,260.30 1183.75,260.43 1183.85,260.56 1183.94,260.70 1184.02,260.85 1184.10,261.00 1184.23,261.27 1184.34,261.58 1184.44,261.92 1184.53,262.29 1184.62,262.69 1184.70,263.11 1184.77,263.55 1184.85,264.02 1184.92,264.50 1185.00,265.00 1185.13,265.90 1185.24,266.90 1185.35,267.99 1185.45,269.14 1185.54,270.33 1185.63,271.56 1185.72,272.79 1185.81,274.03 1185.90,275.23 1186.00,276.40 1186.04,276.80 1186.09,277.20 1186.13,277.60 1186.17,278.01 1186.22,278.41 1186.26,278.81 1186.30,279.21 1186.34,279.61 1186.38,280.01 1186.42,280.42 1186.46,280.82 1186.50,281.22 1186.54,281.62 1186.58,282.02 1186.62,282.42 1186.66,282.83 1186.70,283.23 1186.74,283.63 1186.78,284.03 1186.82,284.43 1186.85,284.83 1186.89,285.24 1186.93,285.64 1186.97,286.04 1187.00,286.44 1187.04,286.84 1187.07,287.24 1187.11,287.65 1187.15,288.05 1187.18,288.45 1187.22,288.85 1187.25,289.25 1187.29,289.65 1187.32,290.06 1187.35,290.46 1187.39,290.86 1187.42,291.26 1187.46,291.66 1187.49,292.06 1187.52,292.47 1187.55,292.87 1187.59,293.27 1187.62,293.67 1187.65,294.07 1187.68,294.47 1187.72,294.88 1187.75,295.28 1187.78,295.68 1187.81,296.08 1187.84,296.48 1187.87,296.88 1187.90,297.29 1187.93,297.69 1187.96,298.09 1187.99,298.49 1188.02,298.89 1188.05,299.29 1188.08,299.70 1188.11,300.10 1188.14,300.50 1188.17,300.90 1188.20,301.30 1188.23,301.70 1188.26,302.11 1188.29,302.51 1188.32,302.91 1188.35,303.31 1188.37,303.71 1188.40,304.11 1188.43,304.52 1188.46,304.92 1188.49,305.32 1188.52,305.72 1188.54,306.12 1188.57,306.52 1188.60,306.92 1188.63,307.33 1188.65,307.73 1188.68,308.13 1188.71,308.53 1188.74,308.93 1188.76,309.33 1188.79,309.74 1188.82,310.14 1188.84,310.54 1188.87,310.94 1188.90,311.34 1188.93,311.74 1188.95,312.15 1188.98,312.55 1189.01,312.95 1189.03,313.35 1189.06,313.75 1189.09,314.15 1189.11,314.56 1189.14,314.96 1189.17,315.36 1189.19,315.76 1189.22,316.16 1189.24,316.56 1189.27,316.97 1189.30,317.37 1189.32,317.77 1189.35,318.17 1189.38,318.57 1189.40,318.97 1189.43,319.38 1189.46,319.78 1189.48,320.18 1189.51,320.58 1189.54,320.98 1189.56,321.38 1189.59,321.79 1189.62,322.19 1189.64,322.59 1189.67,322.99 1189.70,323.39 1189.73,323.79 1189.75,324.20 1189.78,324.60 1189.81,325.00 1189.83,325.40 1189.86,325.80 1189.89,326.20 1189.92,326.61 1189.94,327.01 1189.97,327.41 1190.00,327.81 1190.03,328.21 1190.05,328.61 1190.08,329.02 1190.11,329.42 1190.14,329.82 1190.17,330.22 1190.20,330.62 1190.22,331.02 1190.25,331.43 1190.28,331.83 1190.31,332.23 1190.34,332.63 1190.37,333.03 1190.40,333.43 1190.43,333.84 1190.46,334.24 1190.49,334.64 1190.52,335.04 1190.55,335.44 1190.58,335.84 1190.61,336.25 1190.64,336.65 1190.67,337.05 1190.70,337.45 1190.73,337.85 1190.76,338.25 1190.79,338.65 1190.82,339.06 1190.86,339.46 1190.89,339.86 1190.92,340.26 1190.95,340.66 1190.99,341.06 1191.02,341.47 1191.05,341.87 1191.08,342.27 1191.12,342.67 1191.15,343.07 1191.18,343.47 1191.22,343.88 1191.25,344.28 1191.29,344.68 1191.32,345.08 1191.36,345.48 1191.39,345.88 1191.43,346.29 1191.46,346.69 1191.50,347.09 1191.54,347.49 1191.57,347.89 1191.61,348.29 1191.65,348.70 1191.68,349.10 1191.72,349.50 1191.76,349.90 1191.80,350.30 1191.83,350.70 1191.87,351.11 1191.91,351.51 1191.95,351.91 1191.99,352.31 1192.03,352.71 1192.07,353.11 1192.11,353.52 1192.15,353.92 1192.19,354.32 1192.23,354.72 1192.28,355.12 1192.32,355.52 1192.36,355.93 1192.40,356.33 1192.45,356.73 1192.49,357.13 1192.53,357.53 1192.58,357.93 1192.62,358.34 1192.67,358.74 1192.71,359.14 1192.76,359.54 1192.80,359.94 1192.85,360.34 1192.90,360.75 1192.94,361.15 1192.99,361.55 1193.04,361.95 1193.09,362.35 1193.13,362.75 1193.18,363.16 1193.23,363.56 1193.28,363.96 1193.33,364.36 1193.38,364.76 1193.43,365.16 1193.48,365.57 1193.54,365.97 1193.59,366.37 1193.64,366.77 1193.69,367.17 1193.75,367.57 1193.80,367.98 1193.85,368.38 1193.91,368.78 1193.96,369.18 1194.02,369.58 1194.08,369.98 1194.13,370.38 1194.19,370.79 1194.25,371.19 1194.30,371.59 1194.36,371.99 1194.42,372.39 1194.48,372.79 1194.54,373.20 1194.60,373.60 1194.66,374.00 1194.72,374.40 1194.78,374.80 1194.84,375.20 1194.91,375.61 1194.97,376.01 1195.03,376.41 1195.10,376.81 1195.16,377.21 1195.23,377.61 1195.29,378.02 1195.36,378.42 1195.43,378.82 1195.49,379.22 1195.56,379.62 1195.63,380.02 1195.70,380.43 1195.77,380.83 1195.84,381.23 1195.91,381.63 1195.98,382.03 1196.05,382.43 1196.12,382.84 1196.19,383.24 1196.27,383.64 1196.34,384.04 1196.42,384.44 1196.49,384.84 1196.57,385.25 1196.64,385.65 1196.72,386.05 1196.80,386.45 1196.87,386.85 1196.95,387.25 1197.03,387.66 1197.11,388.06 1197.19,388.46 1197.27,388.86 1197.35,389.26 1197.43,389.66 1197.52,390.07 1197.60,390.47 1197.68,390.87 1197.77,391.27 1197.85,391.67 1197.94,392.07 1198.03,392.48 1198.11,392.88 1198.20,393.28 1198.29,393.68 1198.38,394.08 1198.47,394.48 1198.56,394.89 1198.65,395.29 1198.74,395.69 1198.83,396.09 1198.93,396.49 1199.02,396.89 1199.11,397.30 1199.21,397.70 1199.30,398.10 1199.40,398.50 1199.81,399.41 1200.22,400.28 1200.62,401.12 1201.03,401.91 1201.44,402.67 1201.85,403.39 1202.26,404.08 1202.67,404.73 1203.07,405.34 1203.48,405.92 1203.89,406.47 1204.30,406.99 1204.71,407.47 1205.12,407.93 1205.52,408.35 1205.93,408.75 1206.34,409.12 1206.75,409.46 1207.16,409.77 1207.56,410.05 1207.97,410.31 1208.38,410.55 1208.79,410.76 1209.20,410.95 1209.61,411.12 1210.01,411.26 1210.42,411.38 1210.83,411.48 1211.24,411.57 1211.65,411.63 1212.06,411.68 1212.46,411.71 1212.87,411.72 1213.28,411.71 1213.69,411.69 1214.10,411.66 1214.51,411.61 1214.91,411.55 1215.32,411.48 1215.73,411.39 1216.14,411.30 1216.55,411.19 1216.95,411.08 1217.36,410.96 1217.77,410.83 1218.18,410.69 1218.59,410.54 1219.00,410.39 1219.40,410.24 1219.81,410.08 1220.22,409.92 1220.63,409.75 1221.04,409.59 1221.45,409.42 1221.85,409.25 1222.26,409.08 1222.67,408.91 1223.08,408.74 1223.49,408.56 1223.89,408.37 1224.30,408.18 1224.71,407.97 1225.12,407.76 1225.53,407.54 1225.94,407.30 1226.34,407.05 1226.75,406.78 1227.16,406.50 1227.57,406.20 1227.98,405.88 1228.39,405.54 1228.79,405.18 1229.20,404.79 1229.61,404.38 1230.02,403.95 1230.43,403.49 1230.84,403.00 1231.24,402.48 1231.65,401.92 1232.06,401.34 1232.47,400.72 1232.88,400.07 1233.28,399.38 1233.69,398.65 1234.10,397.88 1234.51,397.06 1234.92,396.18 1235.33,395.25 1235.73,394.24 1236.14,393.16 1236.55,392.01 1236.96,390.77 1237.37,389.44 1237.78,388.01 1238.18,386.48 1238.59,384.85 1239.00,383.10 1239.08,382.70 1239.15,382.30 1239.23,381.89 1239.30,381.49 1239.37,381.09 1239.44,380.69 1239.52,380.29 1239.59,379.88 1239.66,379.48 1239.73,379.08 1239.79,378.68 1239.86,378.28 1239.93,377.87 1240.00,377.47 1240.06,377.07 1240.13,376.67 1240.19,376.27 1240.25,375.86 1240.32,375.46 1240.38,375.06 1240.44,374.66 1240.50,374.26 1240.56,373.85 1240.62,373.45 1240.68,373.05 1240.74,372.65 1240.80,372.25 1240.85,371.84 1240.91,371.44 1240.97,371.04 1241.02,370.64 1241.08,370.24 1241.13,369.83 1241.18,369.43 1241.24,369.03 1241.29,368.63 1241.34,368.23 1241.39,367.82 1241.44,367.42 1241.49,367.02 1241.54,366.62 1241.59,366.22 1241.64,365.82 1241.69,365.41 1241.73,365.01 1241.78,364.61 1241.82,364.21 1241.87,363.81 1241.91,363.40 1241.96,363.00 1242.00,362.60 1242.04,362.20 1242.09,361.80 1242.13,361.39 1242.17,360.99 1242.21,360.59 1242.25,360.19 1242.29,359.79 1242.33,359.38 1242.37,358.98 1242.41,358.58 1242.45,358.18 1242.49,357.78 1242.52,357.37 1242.56,356.97 1242.59,356.57 1242.63,356.17 1242.67,355.77 1242.70,355.36 1242.73,354.96 1242.77,354.56 1242.80,354.16 1242.84,353.76 1242.87,353.35 1242.90,352.95 1242.93,352.55 1242.96,352.15 1242.99,351.75 1243.02,351.34 1243.05,350.94 1243.08,350.54 1243.11,350.14 1243.14,349.74 1243.17,349.33 1243.20,348.93 1243.23,348.53 1243.25,348.13 1243.28,347.73 1243.31,347.32 1243.33,346.92 1243.36,346.52 1243.38,346.12 1243.41,345.72 1243.43,345.31 1243.46,344.91 1243.48,344.51 1243.51,344.11 1243.53,343.71 1243.55,343.30 1243.58,342.90 1243.60,342.50 1243.62,342.10 1243.64,341.70 1243.66,341.29 1243.69,340.89 1243.71,340.49 1243.73,340.09 1243.75,339.69 1243.77,339.28 1243.79,338.88 1243.81,338.48 1243.83,338.08 1243.85,337.68 1243.87,337.27 1243.88,336.87 1243.90,336.47 1243.92,336.07 1243.94,335.67 1243.96,335.26 1243.97,334.86 1243.99,334.46 1244.01,334.06 1244.03,333.66 1244.04,333.25 1244.06,332.85 1244.08,332.45 1244.09,332.05 1244.11,331.65 1244.12,331.25 1244.14,330.84 1244.15,330.44 1244.17,330.04 1244.18,329.64 1244.20,329.24 1244.21,328.83 1244.23,328.43 1244.24,328.03 1244.26,327.63 1244.27,327.23 1244.28,326.82 1244.30,326.42 1244.31,326.02 1244.33,325.62 1244.34,325.22 1244.35,324.81 1244.37,324.41 1244.38,324.01 1244.39,323.61 1244.40,323.21 1244.42,322.80 1244.43,322.40 1244.44,322.00 1244.46,321.60 1244.47,321.20 1244.48,320.79 1244.49,320.39 1244.51,319.99 1244.52,319.59 1244.53,319.19 1244.54,318.78 1244.55,318.38 1244.57,317.98 1244.58,317.58 1244.59,317.18 1244.60,316.77 1244.61,316.37 1244.63,315.97 1244.64,315.57 1244.65,315.17 1244.66,314.76 1244.67,314.36 1244.69,313.96 1244.70,313.56 1244.71,313.16 1244.72,312.75 1244.73,312.35 1244.75,311.95 1244.76,311.55 1244.77,311.15 1244.78,310.74 1244.80,310.34 1244.81,309.94 1244.82,309.54 1244.83,309.14 1244.85,308.73 1244.86,308.33 1244.87,307.93 1244.88,307.53 1244.90,307.13 1244.91,306.72 1244.92,306.32 1244.93,305.92 1244.95,305.52 1244.96,305.12 1244.97,304.71 1244.99,304.31 1245.00,303.91 1245.02,303.51 1245.03,303.11 1245.04,302.70 1245.06,302.30 1245.07,301.90 1245.09,301.50 1245.10,301.10 1245.12,300.69 1245.13,300.29 1245.15,299.89 1245.16,299.49 1245.18,299.09 1245.19,298.68 1245.21,298.28 1245.22,297.88 1245.24,297.48 1245.26,297.08 1245.27,296.68 1245.29,296.27 1245.31,295.87 1245.33,295.47 1245.34,295.07 1245.36,294.67 1245.38,294.26 1245.40,293.86 1245.41,293.46 1245.43,293.06 1245.45,292.66 1245.47,292.25 1245.49,291.85 1245.51,291.45 1245.53,291.05 1245.55,290.65 1245.57,290.24 1245.59,289.84 1245.61,289.44 1245.63,289.04 1245.66,288.64 1245.68,288.23 1245.70,287.83 1245.72,287.43 1245.75,287.03 1245.77,286.63 1245.79,286.22 1245.82,285.82 1245.84,285.42 1245.86,285.02 1245.89,284.62 1245.91,284.21 1245.94,283.81 1245.97,283.41 1245.99,283.01 1246.02,282.61 1246.05,282.20 1246.07,281.80 1246.10,281.40 1245.20,298.90 1245.29,297.13 1245.38,295.33 1245.47,293.51 1245.57,291.68 1245.66,289.87 1245.75,288.07 1245.84,286.32 1245.93,284.61 1246.02,282.97 1246.10,281.40 1246.16,280.23 1246.22,279.09 1246.27,277.96 1246.32,276.86 1246.38,275.79 1246.43,274.76 1246.49,273.76 1246.55,272.79 1246.62,271.87 1246.70,271.00 1246.76,270.38 1246.81,269.73 1246.87,269.06 1246.93,268.40 1246.99,267.78 1247.06,267.21 1247.13,266.73 1247.21,266.35 1247.30,266.10 1247.40,266.00" stroke="#ff0000" stroke-width="3.20" stroke-dasharray="11.023 4.854" stroke-dashoffset="5.511"/>
<polyline points="1247.40,266.00 1247.46,266.02 1247.53,266.07 1247.60,266.17 1247.68,266.31 1247.76,266.47 1247.83,266.65 1247.91,266.85 1247.98,267.06 1248.04,267.28 1248.10,267.50 1248.21,268.05 1248.29,268.71 1248.34,269.46 1248.38,270.29 1248.41,271.17 1248.42,272.11 1248.44,273.07 1248.45,274.05 1248.47,275.03 1248.50,276.00 1248.55,277.27 1248.59,278.59 1248.63,279.97 1248.67,281.38 1248.71,282.83 1248.75,284.29 1248.78,285.76 1248.82,287.22 1248.86,288.67 1248.90,290.10 1248.92,290.50 1248.95,290.90 1248.97,291.31 1248.99,291.71 1249.02,292.11 1249.04,292.51 1249.06,292.92 1249.08,293.32 1249.10,293.72 1249.12,294.12 1249.14,294.52 1249.16,294.93 1249.18,295.33 1249.20,295.73 1249.22,296.13 1249.24,296.54 1249.26,296.94 1249.28,297.34 1249.29,297.74 1249.31,298.14 1249.33,298.55 1249.35,298.95 1249.36,299.35 1249.38,299.75 1249.39,300.16 1249.41,300.56 1249.43,300.96 1249.44,301.36 1249.46,301.76 1249.47,302.17 1249.48,302.57 1249.50,302.97 1249.51,303.37 1249.52,303.77 1249.54,304.18 1249.55,304.58 1249.56,304.98 1249.58,305.38 1249.59,305.79 1249.60,306.19 1249.61,306.59 1249.62,306.99 1249.63,307.39 1249.64,307.80 1249.66,308.20 1249.67,308.60 1249.68,309.00 1249.69,309.41 1249.70,309.81 1249.71,310.21 1249.71,310.61 1249.72,311.01 1249.73,311.42 1249.74,311.82 1249.75,312.22 1249.76,312.62 1249.77,313.03 1249.77,313.43 1249.78,313.83 1249.79,314.23 1249.80,314.63 1249.80,315.04 1249.81,315.44 1249.82,315.84 1249.83,316.24 1249.83,316.65 1249.84,317.05 1249.85,317.45 1249.85,317.85 1249.86,318.25 1249.86,318.66 1249.87,319.06 1249.88,319.46 1249.88,319.86 1249.89,320.27 1249.89,320.67 1249.90,321.07 1249.90,321.47 1249.91,321.87 1249.91,322.28 1249.92,322.68 1249.92,323.08 1249.93,323.48 1249.93,323.88 1249.94,324.29 1249.94,324.69 1249.95,325.09 1249.95,325.49 1249.95,325.90 1249.96,326.30 1249.96,326.70 1249.97,327.10 1249.97,327.50 1249.97,327.91 1249.98,328.31 1249.98,328.71 1249.99,329.11 1249.99,329.52 1249.99,329.92 1250.00,330.32 1250.00,330.72 1250.00,331.12 1250.01,331.53 1250.01,331.93 1250.01,332.33 1250.02,332.73 1250.02,333.14 1250.03,333.54 1250.03,333.94 1250.03,334.34 1250.04,334.74 1250.04,335.15 1250.04,335.55 1250.05,335.95 1250.05,336.35 1250.05,336.76 1250.06,337.16 1250.06,337.56 1250.07,337.96 1250.07,338.36 1250.07,338.77 1250.08,339.17 1250.08,339.57 1250.09,339.97 1250.09,340.38 1250.09,340.78 1250.10,341.18 1250.10,341.58 1250.11,341.98 1250.11,342.39 1250.12,342.79 1250.12,343.19 1250.13,343.59 1250.13,343.99 1250.14,344.40 1250.14,344.80 1250.15,345.20 1250.15,345.60 1250.16,346.01 1250.16,346.41 1250.17,346.81 1250.17,347.21 1250.18,347.61 1250.19,348.02 1250.19,348.42 1250.20,348.82 1250.20,349.22 1250.21,349.63 1250.22,350.03 1250.22,350.43 1250.23,350.83 1250.24,351.23 1250.25,351.64 1250.25,352.04 1250.26,352.44 1250.27,352.84 1250.28,353.25 1250.28,353.65 1250.29,354.05 1250.30,354.45 1250.31,354.85 1250.32,355.26 1250.33,355.66 1250.34,356.06 1250.35,356.46 1250.36,356.87 1250.37,357.27 1250.38,357.67 1250.39,358.07 1250.40,358.47 1250.41,358.88 1250.42,359.28 1250.43,359.68 1250.44,360.08 1250.45,360.49 1250.47,360.89 1250.48,361.29 1250.49,361.69 1250.50,362.09 1250.52,362.50 1250.53,362.90 1250.54,363.30 1250.56,363.70 1250.57,364.11 1250.59,364.51 1250.60,364.91 1250.62,365.31 1250.63,365.71 1250.65,366.12 1250.66,366.52 1250.68,366.92 1250.69,367.32 1250.71,367.72 1250.73,368.13 1250.75,368.53 1250.76,368.93 1250.78,369.33 1250.80,369.74 1250.82,370.14 1250.84,370.54 1250.86,370.94 1250.88,371.34 1250.90,371.75 1250.92,372.15 1250.94,372.55 1250.96,372.95 1250.98,373.36 1251.00,373.76 1251.02,374.16 1251.04,374.56 1251.07,374.96 1251.09,375.37 1251.11,375.77 1251.14,376.17 1251.16,376.57 1251.19,376.98 1251.21,377.38 1251.24,377.78 1251.26,378.18 1251.29,378.58 1251.32,378.99 1251.34,379.39 1251.37,379.79 1251.40,380.19 1251.43,380.60 1251.46,381.00 1251.49,381.40 1251.52,381.80 1251.55,382.20 1251.58,382.61 1251.61,383.01 1251.64,383.41 1251.67,383.81 1251.70,384.22 1251.74,384.62 1251.77,385.02 1251.80,385.42 1251.84,385.82 1251.87,386.23 1251.91,386.63 1251.94,387.03 1251.98,387.43 1252.01,387.83 1252.05,388.24 1252.09,388.64 1252.13,389.04 1252.17,389.44 1252.20,389.85 1252.24,390.25 1252.28,390.65 1252.32,391.05 1252.37,391.45 1252.41,391.86 1252.45,392.26 1252.49,392.66 1252.54,393.06 1252.58,393.47 1252.62,393.87 1252.67,394.27 1252.71,394.67 1252.76,395.07 1252.81,395.48 1252.85,395.88 1252.90,396.28 1252.95,396.68 1253.00,397.09 1253.05,397.49 1253.10,397.89 1253.15,398.29 1253.20,398.69 1253.25,399.10 1253.30,399.50 1253.35,399.90 1253.41,400.30 1253.46,400.71 1253.52,401.11 1253.57,401.51 1253.63,401.91 1253.68,402.31 1253.74,402.72 1253.80,403.12 1253.86,403.52 1253.91,403.92 1253.97,404.33 1254.03,404.73 1254.10,405.13 1254.16,405.53 1254.22,405.93 1254.28,406.34 1254.35,406.74 1254.41,407.14 1254.47,407.54 1254.54,407.94 1254.61,408.35 1254.67,408.75 1254.74,409.15 1254.81,409.55 1254.88,409.96 1254.95,410.36 1255.02,410.76 1255.09,411.16 1255.16,411.56 1255.23,411.97 1255.30,412.37 1255.38,412.77 1255.45,413.17 1255.53,413.58 1255.60,413.98 1255.68,414.38 1255.76,414.78 1255.83,415.18 1255.91,415.59 1255.99,415.99 1256.07,416.39 1256.15,416.79 1256.23,417.20 1256.32,417.60 1256.40,418.00 1253.90,406.30 1254.14,407.51 1254.36,408.79 1254.56,410.11 1254.77,411.43 1254.98,412.74 1255.20,414.00 1255.45,415.18 1255.72,416.26 1256.04,417.21 1256.40,418.00 1256.61,418.36 1256.84,418.71 1257.07,419.02 1257.31,419.31 1257.55,419.57 1257.81,419.80 1258.07,420.00 1258.34,420.17 1258.62,420.30 1258.90,420.40 1259.18,420.45 1259.47,420.45 1259.76,420.42 1260.07,420.35 1260.38,420.26 1260.69,420.15 1261.01,420.03 1261.34,419.91 1261.67,419.80 1262.00,419.70 1262.40,419.59 1262.82,419.47 1263.24,419.35 1263.67,419.22 1264.11,419.08 1264.55,418.94 1264.99,418.81 1265.43,418.67 1265.87,418.53 1266.30,418.40 1266.70,418.26 1267.11,418.12 1267.51,417.99 1267.92,417.86 1268.32,417.73 1268.73,417.60 1269.13,417.47 1269.53,417.35 1269.94,417.22 1270.34,417.10 1270.75,416.98 1271.15,416.86 1271.56,416.74 1271.96,416.63 1272.36,416.51 1272.77,416.40 1273.17,416.29 1273.58,416.18 1273.98,416.07 1274.39,415.96 1274.79,415.85 1275.19,415.74 1275.60,415.63 1276.00,415.53 1276.41,415.42 1276.81,415.32 1277.22,415.21 1277.62,415.11 1278.02,415.00 1278.43,414.90 1278.83,414.79 1279.24,414.69 1279.64,414.58 1280.05,414.48 1280.45,414.37 1280.85,414.27 1281.26,414.16 1281.66,414.06 1282.07,413.95 1282.47,413.85 1282.88,413.74 1283.28,413.63 1283.68,413.52 1284.09,413.41 1284.49,413.30 1284.90,413.19 1285.30,413.08 1285.71,412.97 1286.11,412.85 1286.52,412.73 1286.92,412.62 1287.32,412.50 1287.73,412.38 1288.13,412.26 1288.54,412.13 1288.94,412.01 1289.35,411.88 1289.75,411.75 1290.15,411.62 1290.56,411.49 1290.96,411.35 1291.37,411.22 1291.77,411.08 1292.18,410.93 1292.58,410.79 1292.98,410.64 1293.39,410.50 1293.79,410.34 1294.20,410.19 1294.60,410.03 1295.01,409.87 1295.41,409.71 1295.81,409.54 1296.22,409.38 1296.62,409.20 1297.03,409.03 1297.43,408.85 1297.84,408.67 1298.24,408.48 1298.64,408.30 1299.05,408.10 1299.45,407.91 1299.86,407.71 1300.26,407.51 1300.67,407.30 1301.07,407.09 1301.47,406.88 1301.88,406.66 1302.28,406.43 1302.69,406.21 1303.09,405.98 1303.50,405.74 1303.90,405.50 1300.40,407.70 1300.76,407.48 1301.12,407.27 1301.50,407.07 1301.87,406.86 1302.25,406.66 1302.61,406.44 1302.96,406.23 1303.30,406.00 1303.61,405.76 1303.90,405.50 1304.13,405.26 1304.35,405.02 1304.56,404.78 1304.75,404.53 1304.94,404.27 1305.11,404.00 1305.27,403.72 1305.42,403.43 1305.56,403.12 1305.70,402.80 1305.86,402.37 1305.99,401.91 1306.10,401.43 1306.19,400.93 1306.28,400.41 1306.35,399.88 1306.41,399.33 1306.47,398.76 1306.54,398.19 1306.60,397.60 1306.68,396.82 1306.75,396.02 1306.81,395.19 1306.86,394.34 1306.90,393.47 1306.94,392.57 1306.98,391.66 1307.02,390.72 1307.06,389.77 1307.10,388.80 1307.16,387.58 1307.21,386.37 1307.26,385.14 1307.31,383.89 1307.36,382.60 1307.41,381.26 1307.46,379.84 1307.51,378.33 1307.55,376.72 1307.60,375.00 1307.69,371.47 1307.77,367.51 1307.86,363.18 1307.94,358.55 1308.02,353.69 1308.10,348.67 1308.18,343.57 1308.25,338.44 1308.33,333.36 1308.40,328.40 1308.48,322.99 1308.55,317.50 1308.62,311.93 1308.69,306.30 1308.76,300.63 1308.83,294.93 1308.90,289.23 1308.96,283.52 1309.03,277.84 1309.10,272.20 1309.17,278.03 1309.24,283.93 1309.31,289.87 1309.37,295.83 1309.44,301.76 1309.51,307.64 1309.58,313.44 1309.65,319.12 1309.72,324.65 1309.80,330.00 1309.86,334.39 1309.93,338.81 1310.00,343.21 1310.06,347.55 1310.13,351.78 1310.20,355.88 1310.27,359.79 1310.35,363.47 1310.42,366.89 1310.50,370.00 1310.55,371.65 1310.59,373.19 1310.64,374.65 1310.68,376.02 1310.73,377.34 1310.78,378.60 1310.83,379.84 1310.88,381.06 1310.94,382.27 1311.00,383.50 1311.05,384.54 1311.10,385.57 1311.15,386.58 1311.20,387.57 1311.25,388.55 1311.31,389.51 1311.37,390.46 1311.44,391.39 1311.51,392.30 1311.60,393.20 1311.67,393.96 1311.74,394.73 1311.80,395.49 1311.87,396.24 1311.95,396.98 1312.04,397.69 1312.14,398.37 1312.27,399.03 1312.42,399.64 1312.60,400.20 1312.74,400.58 1312.89,400.94 1313.05,401.29 1313.21,401.62 1313.39,401.93 1313.58,402.23 1313.78,402.51 1314.00,402.76 1314.24,402.99 1314.50,403.20 1314.78,403.38 1315.07,403.54 1315.39,403.67 1315.72,403.78 1316.06,403.87 1316.42,403.94 1316.79,403.99 1317.18,404.04 1317.58,404.07 1318.00,404.10 1318.66,404.11 1319.37,404.08 1320.12,404.01 1320.91,403.90 1321.73,403.77 1322.56,403.63 1323.40,403.47 1324.24,403.31 1325.08,403.15 1325.90,403.00 1326.76,402.84 1327.63,402.67 1328.51,402.48 1329.39,402.29 1330.27,402.09 1331.16,401.89 1332.05,401.69 1332.93,401.49 1333.82,401.29 1334.70,401.10 1335.58,400.92 1336.46,400.73 1337.34,400.55 1338.22,400.37 1339.10,400.19 1339.98,400.01" stroke="#ff0000" stroke-width="3.20" stroke-dasharray="10.878 4.791" stroke-dashoffset="5.439"/>
<polyline points="1339.98,400.01 1340.86,399.83 1341.74,399.65 1342.62,399.48 1343.50,399.30 1344.38,399.12 1345.26,398.94 1346.14,398.75 1347.02,398.57 1347.90,398.39 1348.78,398.21 1349.66,398.04 1350.54,397.88 1351.42,397.73 1352.30,397.60 1353.18,397.48 1354.07,397.37 1354.97,397.28 1355.87,397.19 1356.77,397.11 1357.66,397.03 1358.53,396.97 1359.39,396.91 1360.21,396.85 1361.00,396.80 1361.60,396.76 1362.18,396.74 1362.74,396.71 1363.29,396.69 1363.83,396.68 1364.36,396.66 1364.89,396.65 1365.42,396.63 1365.96,396.62 1366.50,396.60" stroke="#ff0000" stroke-width="3.20" stroke-dasharray="10.900 4.800" stroke-dashoffset="0.500"/>
</g>
<text x="761.10" y="431.70" class="tl" text-anchor="end">0</text>
<text x="761.10" y="357.80" class="tl" text-anchor="end">1</text>
<text x="761.10" y="283.90" class="tl" text-anchor="end">2</text>
<text x="761.10" y="210.00" class="tl" text-anchor="end">3</text>
<text x="761.10" y="136.10" class="tl" text-anchor="end">4</text>
<text x="761.10" y="62.20" class="tl" text-anchor="end">5</text>
<text x="766.10" y="456.00" class="tl" text-anchor="middle">0.001</text>
<text x="865.75" y="456.00" class="tl" text-anchor="middle">0.002</text>
<text x="965.40" y="456.00" class="tl" text-anchor="middle">0.003</text>
<text x="1065.05" y="456.00" class="tl" text-anchor="middle">0.004</text>
<text x="1164.70" y="456.00" class="tl" text-anchor="middle">0.005</text>
<text x="1264.35" y="456.00" class="tl" text-anchor="middle">0.006</text>
<text x="1364.00" y="456.00" class="tl" text-anchor="middle">0.007</text>
<text x="1066.55" y="21.2" class="ti" text-anchor="middle">Backward direction gain</text>
<g transform="translate(702.80,0.00)"><g fill="none" stroke="#000" stroke-linecap="round">
<path d="M370.6,486.4 C366.5,486.0 361.8,488.2 360.4,491.2 C359.5,493.6 361.6,495.4 365.6,495.2" stroke-width="1.9"/>
<path d="M364.6,487.5 C362.4,488.7 360.8,490.3 360.4,492.3" stroke-width="2.9"/>
<path d="M364.0,483.9 L365.1,486.6" stroke-width="1.2"/>
<path d="M362.2,495.9 C357.7,497.4 355.2,501.2 356.7,504.2 C358.2,506.6 364.3,506.2 366.0,508.0 C367.4,510.0 363.8,511.6 360.6,510.6" stroke-width="1.9"/>
<path d="M360.5,497.0 C357.8,498.8 356.4,501.5 357.2,503.8 C358.2,505.5 361.0,505.9 363.4,506.4" stroke-width="3.9"/>
<path d="M363.5,506.6 C365.6,507.2 366.6,508.2 366.3,509.4" stroke-width="3.0"/>
</g>
<g fill="#000" stroke="none">
<ellipse cx="369.9" cy="486.0" rx="2.3" ry="1.6" transform="rotate(-15 369.9 486)"/>
<ellipse cx="367.6" cy="495.0" rx="2.3" ry="1.3"/>
<circle cx="359.6" cy="509.9" r="1.35"/>
</g></g>
<text transform="translate(725.10,296.50) rotate(-90)" class="gl">Gain (G)</text>
<rect x="945.40" y="76.10" width="172.00" height="120.20" rx="13.3" ry="13.3" fill="#fff" stroke="#000" stroke-width="2.5"/>
<path d="M957.30 101.25H996.30" stroke="#0000ff" stroke-width="3.7"/>
<path d="M957.30 159.20H996.30" stroke="#ff0000" stroke-width="3.7" stroke-dasharray="11.6 4.1"/>
<text x="1012.40" y="111.70" class="lz">&#950;</text>
<text x="1036.20" y="115.40" class="lg">=</text>
<text x="1063.90" y="111.70" class="lg ln">2.7</text>
<text x="1012.40" y="169.70" class="lz">&#950;</text>
<text x="1036.20" y="173.40" class="lg">=</text>
<text x="1063.90" y="169.70" class="lg ln">3.0</text>
</svg>
</body></html>
